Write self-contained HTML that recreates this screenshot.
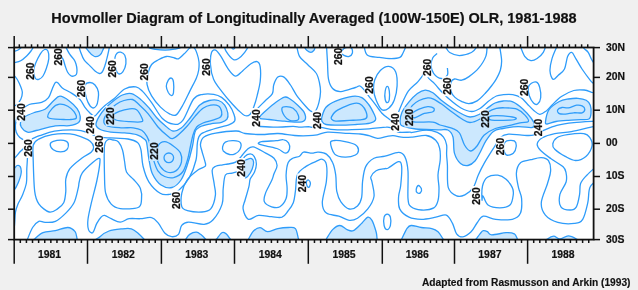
<!DOCTYPE html>
<html><head><meta charset="utf-8"><style>
html,body{margin:0;padding:0;background:#f0f0f0;}
svg{display:block;will-change:transform;}
.ax{font-family:"Liberation Sans",sans-serif;font-weight:bold;font-size:10.4px;fill:#111;stroke:#111;stroke-width:0.2px;}
.cl{font-family:"Liberation Sans",sans-serif;font-weight:bold;font-size:10.4px;fill:#111;stroke:#111;stroke-width:0.25px;}
.tt{font-family:"Liberation Sans",sans-serif;font-weight:bold;font-size:14.52px;fill:#111;stroke:#111;stroke-width:0.2px;}
.ft{font-family:"Liberation Sans",sans-serif;font-weight:bold;font-size:10.2px;fill:#111;stroke:#111;stroke-width:0.15px;}
</style></head><body>
<svg width="638" height="290" viewBox="0 0 638 290">
<defs><mask id="lm" maskUnits="userSpaceOnUse" x="0" y="0" width="638" height="290"><rect x="0" y="0" width="638" height="290" fill="#fff"/><rect x="25.5" y="61.2" width="8.6" height="20" fill="#000"/>
<rect x="53.2" y="46.8" width="8.6" height="20" fill="#000"/>
<rect x="16.3" y="102.0" width="8.6" height="20" fill="#000"/>
<rect x="23.2" y="138.0" width="8.6" height="20" fill="#000"/>
<rect x="76.9" y="78.5" width="8.6" height="20" fill="#000"/>
<rect x="85.7" y="115.0" width="8.6" height="20" fill="#000"/>
<rect x="105.7" y="106.0" width="8.6" height="20" fill="#000"/>
<rect x="94.7" y="134.0" width="8.6" height="20" fill="#000"/>
<rect x="107.7" y="58.8" width="8.6" height="20" fill="#000"/>
<rect x="139.7" y="61.8" width="8.6" height="20" fill="#000"/>
<rect x="149.2" y="141.0" width="8.6" height="20" fill="#000"/>
<rect x="171.3" y="190.4" width="8.6" height="20" fill="#000"/>
<rect x="201.5" y="57.0" width="8.6" height="20" fill="#000"/>
<rect x="251.2" y="108.0" width="8.6" height="20" fill="#000"/>
<rect x="236.7" y="158.0" width="8.6" height="20" fill="#000"/>
<rect x="312.3" y="110.4" width="8.6" height="20" fill="#000"/>
<rect x="333.5" y="46.4" width="8.6" height="20" fill="#000"/>
<rect x="364.5" y="75.0" width="8.6" height="20" fill="#000"/>
<rect x="297.2" y="173.5" width="8.6" height="20" fill="#000"/>
<rect x="390.7" y="112.0" width="8.6" height="20" fill="#000"/>
<rect x="404.5" y="107.3" width="8.6" height="20" fill="#000"/>
<rect x="422.7" y="57.3" width="8.6" height="20" fill="#000"/>
<rect x="442.3" y="76.2" width="8.6" height="20" fill="#000"/>
<rect x="480.2" y="109.0" width="8.6" height="20" fill="#000"/>
<rect x="495.8" y="136.5" width="8.6" height="20" fill="#000"/>
<rect x="533.9" y="117.5" width="8.6" height="20" fill="#000"/>
<rect x="519.3" y="77.4" width="8.6" height="20" fill="#000"/>
<rect x="471.2" y="186.0" width="8.6" height="20" fill="#000"/></mask><clipPath id="pc"><rect x="14.2" y="47.5" width="579.4" height="192.1"/></clipPath></defs>
<rect x="14.2" y="47.5" width="579.4" height="192.1" fill="#fff"/>
<g clip-path="url(#pc)">
<g fill="#cce8fe" stroke="none">
<path d="M85.4,44.0 C83.1,45.4 87.8,50.1 89.3,52.2 C90.8,54.3 92.8,56.0 94.5,56.5 C96.2,57.0 98.3,56.2 99.7,55.2 C101.1,54.2 102.1,52.3 102.7,50.4 C103.3,48.5 106.0,45.1 103.1,44.0 C100.2,42.9 87.7,42.6 85.4,44.0Z"/>
<path d="M21.2,127.0 C20.1,125.3 20.1,123.6 20.6,121.9 C21.1,120.2 22.0,118.6 24.4,117.0 C26.8,115.4 31.3,113.7 34.7,112.4 C38.1,111.1 41.9,111.2 45.0,109.3 C48.1,107.4 50.8,103.2 53.3,101.0 C55.8,98.8 57.3,96.2 60.0,96.2 C62.7,96.2 66.5,98.8 69.3,100.9 C72.1,103.0 75.3,106.0 77.1,108.6 C78.9,111.2 80.0,114.1 80.2,116.4 C80.5,118.7 80.4,121.0 78.6,122.6 C76.8,124.1 73.2,125.2 69.3,125.7 C65.4,126.2 60.9,125.1 55.4,125.9 C49.9,126.7 40.8,129.4 36.1,130.5 C31.5,131.6 30.0,132.8 27.5,132.2 C25.0,131.6 22.3,128.7 21.2,127.0Z"/>
<path d="M96.0,125.2 C95.7,123.2 97.0,120.3 98.6,117.4 C100.2,114.5 102.9,110.8 105.5,108.0 C108.1,105.2 111.2,102.7 114.0,100.5 C116.8,98.3 119.5,96.2 122.4,95.0 C125.3,93.8 128.4,92.9 131.4,93.6 C134.4,94.3 137.4,96.8 140.4,99.2 C143.4,101.6 146.5,105.1 149.3,108.2 C152.1,111.3 154.4,115.1 157.0,118.0 C159.6,120.9 162.3,123.3 165.0,125.5 C167.7,127.7 170.3,130.6 173.0,131.0 C175.7,131.4 178.3,130.2 181.2,128.0 C184.1,125.8 187.4,121.3 190.5,117.5 C193.6,113.7 196.7,107.8 199.8,105.0 C202.9,102.2 206.1,101.2 209.2,100.5 C212.3,99.8 215.9,99.7 218.5,100.5 C221.1,101.3 223.1,103.1 224.7,105.2 C226.2,107.3 227.4,110.7 227.8,113.0 C228.2,115.3 228.0,117.7 227.0,119.2 C226.0,120.8 224.3,121.5 221.6,122.3 C218.9,123.1 214.3,123.0 210.7,123.8 C207.1,124.6 202.4,125.5 199.8,126.9 C197.2,128.3 196.2,128.8 195.0,132.0 C193.8,135.2 193.8,140.3 192.5,146.0 C191.2,151.7 188.9,160.3 187.0,166.0 C185.1,171.7 183.5,176.4 181.0,180.0 C178.5,183.6 175.3,186.7 172.0,187.5 C168.7,188.3 164.2,187.2 161.0,185.0 C157.8,182.8 154.5,178.2 152.5,174.0 C150.5,169.8 149.9,164.5 149.0,159.7 C148.1,154.9 147.6,148.3 147.0,145.0 C146.4,141.7 146.9,141.5 145.2,139.8 C143.5,138.1 140.0,135.8 136.6,134.7 C133.2,133.5 128.8,133.3 124.5,132.9 C120.2,132.5 114.7,132.7 110.7,132.1 C106.7,131.5 102.8,130.7 100.3,129.5 C97.8,128.3 96.3,127.2 96.0,125.2Z"/>
<path d="M148.6,44.0 C143.2,44.6 147.4,46.6 148.6,47.5 C149.8,48.4 152.9,48.9 155.7,49.4 C158.4,49.9 162.0,50.2 165.1,50.2 C168.2,50.2 171.9,49.6 174.5,49.1 C177.1,48.6 179.7,48.4 180.8,47.5 C181.9,46.6 186.4,44.6 181.0,44.0 C175.6,43.4 154.0,43.4 148.6,44.0Z"/>
<path d="M230.2,44.0 C229.7,44.9 232.3,49.2 233.3,49.2 C234.3,49.2 236.9,44.9 236.4,44.0 C235.9,43.1 230.7,43.1 230.2,44.0Z"/>
<path d="M10.0,168.0 C10.7,164.1 12.8,169.0 14.0,168.6 C15.2,168.2 16.1,165.8 17.1,165.5 C18.1,165.2 19.5,165.4 20.2,166.6 C20.9,167.8 21.5,170.1 21.2,172.8 C20.9,175.6 19.3,180.2 18.1,183.1 C16.9,186.0 15.3,188.9 14.0,190.4 C12.7,191.9 10.7,195.7 10.0,192.0 C9.3,188.3 9.3,171.9 10.0,168.0Z"/>
<path d="M33.0,242.0 C25.8,241.5 33.0,240.6 34.7,239.0 C36.4,237.4 39.5,234.1 43.0,232.7 C46.5,231.3 51.3,231.6 55.4,230.7 C59.5,229.8 64.5,227.3 67.8,227.5 C71.1,227.7 73.5,229.8 75.1,231.7 C76.6,233.6 76.6,237.3 77.1,239.0 C77.6,240.7 85.3,241.5 78.0,242.0 C70.7,242.5 40.2,242.5 33.0,242.0Z"/>
<path d="M98.0,242.0 C90.3,241.1 98.2,238.5 100.0,236.7 C101.8,234.9 105.3,232.3 109.0,231.0 C112.7,229.7 118.7,229.2 122.4,228.8 C126.1,228.4 128.8,228.1 131.4,228.8 C134.0,229.6 135.9,231.4 138.1,233.3 C140.3,235.2 143.5,238.6 144.8,240.0 C146.1,241.4 153.8,241.7 146.0,242.0 C138.2,242.3 105.7,242.9 98.0,242.0Z"/>
<path d="M183.0,242.0 C179.4,241.7 184.1,241.3 185.2,240.0 C186.3,238.7 187.8,235.7 189.7,234.4 C191.6,233.1 194.5,232.1 196.4,232.2 C198.3,232.3 199.7,233.7 201.2,234.8 C202.7,235.9 204.4,237.8 205.4,239.0 C206.4,240.2 210.7,241.5 207.0,242.0 C203.3,242.5 186.6,242.3 183.0,242.0Z"/>
<path d="M214.0,242.0 C211.4,241.5 215.4,240.6 216.7,239.0 C218.0,237.4 220.3,233.6 221.9,232.7 C223.5,231.8 224.7,232.8 226.1,233.8 C227.5,234.9 229.2,237.6 230.2,239.0 C231.2,240.4 234.7,241.5 232.0,242.0 C229.3,242.5 216.6,242.5 214.0,242.0Z"/>
<path d="M246.0,242.0 C237.3,241.7 246.7,241.8 247.9,240.0 C249.2,238.2 251.4,233.1 253.5,231.0 C255.6,228.9 257.9,227.6 260.2,227.7 C262.5,227.8 264.6,231.5 267.5,231.7 C270.4,231.8 274.4,229.3 277.8,228.6 C281.2,227.9 285.3,227.5 288.2,227.5 C291.1,227.5 293.7,226.7 295.4,228.6 C297.1,230.5 297.7,236.8 298.5,239.0 C299.3,241.2 308.8,241.5 300.0,242.0 C291.2,242.5 254.7,242.3 246.0,242.0Z"/>
<path d="M244.0,162.1 C244.4,159.2 246.1,159.9 247.4,159.3 C248.7,158.7 250.6,158.1 251.6,158.6 C252.6,159.1 253.5,160.4 253.6,162.1 C253.7,163.8 253.1,166.7 252.2,169.0 C251.3,171.3 249.3,174.6 248.1,175.9 C246.8,177.2 245.4,178.9 244.7,176.6 C244.0,174.3 243.6,165.0 244.0,162.1Z"/>
<path d="M259.5,116.9 C260.4,115.6 262.8,113.4 265.5,110.9 C268.2,108.5 272.7,104.5 275.9,102.2 C279.1,99.9 282.2,97.7 284.5,97.1 C286.8,96.5 287.4,97.4 289.7,98.8 C292.0,100.2 295.9,103.4 298.3,105.7 C300.7,108.0 303.2,110.3 304.3,112.6 C305.4,114.9 305.9,117.9 305.2,119.5 C304.5,121.1 303.4,121.8 300.0,122.1 C296.6,122.4 289.7,121.6 284.5,121.2 C279.3,120.8 273.0,119.9 269.0,119.5 C265.0,119.1 261.9,119.0 260.3,118.6 C258.7,118.2 258.6,118.2 259.5,116.9Z"/>
<path d="M303.0,44.0 C301.1,44.6 304.1,46.5 304.7,47.5 C305.3,48.5 305.7,49.4 306.7,50.2 C307.7,51.0 309.7,52.3 310.9,52.3 C312.1,52.3 313.3,51.0 314.0,50.2 C314.7,49.4 314.7,48.5 315.0,47.5 C315.3,46.5 318.0,44.6 316.0,44.0 C314.0,43.4 304.9,43.4 303.0,44.0Z"/>
<path d="M321.9,116.9 C322.6,114.6 323.7,109.9 326.0,107.3 C328.3,104.7 331.3,102.9 335.7,101.1 C340.1,99.3 347.8,96.9 352.2,96.3 C356.6,95.7 359.1,96.2 361.8,97.6 C364.6,99.0 366.6,101.7 368.7,104.5 C370.8,107.3 373.0,111.7 374.2,114.2 C375.4,116.7 376.3,118.2 375.6,119.7 C374.9,121.2 373.3,122.3 370.1,123.1 C366.9,123.9 361.4,124.2 356.3,124.5 C351.2,124.8 344.9,125.2 339.8,125.2 C334.8,125.2 329.0,125.2 326.0,124.5 C323.0,123.8 322.6,122.4 321.9,121.1 C321.2,119.8 321.2,119.2 321.9,116.9Z"/>
<path d="M400.2,122.9 C399.9,120.6 400.5,116.0 401.9,112.6 C403.3,109.1 406.2,105.4 408.8,102.2 C411.4,99.0 414.7,95.6 417.4,93.6 C420.1,91.6 422.6,90.3 425.2,90.2 C427.8,90.1 430.2,91.1 432.9,92.8 C435.6,94.5 438.4,98.0 441.6,100.5 C444.8,103.0 448.6,105.8 452.0,108.0 C455.4,110.2 459.0,112.5 462.0,114.0 C465.0,115.5 467.2,116.9 470.0,117.0 C472.8,117.1 476.2,115.9 479.0,114.5 C481.8,113.1 484.3,110.4 487.0,108.5 C489.7,106.6 492.3,104.2 495.0,103.0 C497.7,101.8 500.3,101.2 503.3,101.0 C506.3,100.8 509.5,100.5 512.8,101.9 C516.1,103.3 520.0,106.4 523.1,109.2 C526.2,112.0 529.5,115.9 531.4,118.5 C533.3,121.1 534.5,123.2 534.5,124.7 C534.5,126.2 534.1,127.3 531.4,127.6 C528.7,127.9 522.9,126.4 518.1,126.6 C513.4,126.8 507.0,127.7 502.9,128.5 C498.8,129.3 496.2,129.3 493.4,131.4 C490.6,133.5 488.1,137.4 485.9,140.9 C483.7,144.4 482.0,148.8 480.2,152.2 C478.4,155.5 477.0,158.8 475.0,161.0 C473.0,163.2 470.4,165.1 468.0,165.5 C465.6,165.9 462.8,165.5 460.5,163.5 C458.2,161.5 455.8,157.8 454.5,153.4 C453.2,149.0 454.1,140.9 453.0,137.0 C451.9,133.1 450.3,131.2 447.8,130.0 C445.3,128.8 443.5,130.0 438.1,129.8 C432.8,129.6 421.4,129.6 415.7,129.0 C409.9,128.4 406.2,127.4 403.6,126.4 C401.0,125.4 400.5,125.2 400.2,122.9Z"/>
<path d="M545.5,121.7 C545.8,119.3 546.7,113.1 549.0,109.7 C551.3,106.3 556.1,103.3 559.3,101.5 C562.5,99.7 565.2,99.5 568.3,99.0 C571.4,98.5 574.9,98.1 577.9,98.3 C580.9,98.5 584.1,99.1 586.2,100.3 C588.3,101.5 589.5,103.0 590.3,105.2 C591.1,107.4 591.2,111.1 591.0,113.4 C590.8,115.7 590.7,118.0 589.0,119.0 C587.3,120.0 584.2,119.5 580.7,119.7 C577.2,119.9 572.4,120.0 568.3,120.3 C564.2,120.6 559.5,120.9 556.0,121.5 C552.5,122.1 549.0,124.0 547.2,124.0 C545.5,124.0 545.2,124.1 545.5,121.7Z"/>
<path d="M324.0,242.0 C315.4,241.5 325.0,241.1 326.4,239.0 C327.8,236.9 330.4,231.8 332.6,229.6 C334.9,227.3 337.5,225.5 339.9,225.5 C342.3,225.5 344.9,228.7 347.1,229.6 C349.3,230.5 350.9,231.7 353.3,230.7 C355.7,229.7 359.2,225.7 361.6,223.4 C364.0,221.2 366.1,217.7 367.8,217.2 C369.5,216.7 370.6,217.9 372.0,220.3 C373.4,222.7 375.2,228.6 376.1,231.7 C377.0,234.8 376.8,237.3 377.1,239.0 C377.4,240.7 386.9,241.5 378.0,242.0 C369.1,242.5 332.6,242.5 324.0,242.0Z"/>
<path d="M399.0,242.0 C391.8,241.5 400.4,241.2 401.7,239.0 C403.0,236.8 405.3,230.8 406.9,228.6 C408.5,226.3 408.7,225.7 411.1,225.5 C413.5,225.3 417.9,227.0 421.4,227.5 C424.8,228.0 429.0,227.9 431.8,228.6 C434.6,229.3 436.1,230.0 438.0,231.7 C439.9,233.4 441.9,237.3 443.1,239.0 C444.3,240.7 452.4,241.5 445.0,242.0 C437.6,242.5 406.2,242.5 399.0,242.0Z"/>
<path d="M474.0,242.0 C466.9,241.5 475.3,240.4 476.3,239.0 C477.3,237.6 478.8,235.2 480.0,233.8 C481.2,232.4 482.1,231.0 483.3,230.7 C484.5,230.3 486.0,231.0 487.4,231.7 C488.8,232.4 488.5,234.6 491.6,234.8 C494.7,235.0 502.3,232.9 506.1,232.7 C509.9,232.5 512.4,232.8 514.3,233.8 C516.2,234.9 516.6,237.6 517.4,239.0 C518.2,240.4 526.2,241.5 519.0,242.0 C511.8,242.5 481.1,242.5 474.0,242.0Z"/>
<path d="M546.0,242.0 C540.9,241.5 546.2,240.0 547.5,239.0 C548.8,238.0 551.6,236.2 553.7,236.2 C555.8,236.2 557.5,239.1 559.9,239.0 C562.3,238.9 565.5,235.8 568.2,235.8 C571.0,235.8 574.8,238.0 576.4,239.0 C578.0,240.0 583.1,241.5 578.0,242.0 C572.9,242.5 551.1,242.5 546.0,242.0Z"/>
</g>
<g fill="none" stroke="#2e9cfa" stroke-width="1.3" mask="url(#lm)">
<path d="M14.0,51.5 C14.8,51.2 17.0,50.7 18.5,49.8 C20.0,48.9 22.2,46.6 23.0,46.0"/>
<path d="M14.0,62.9 C15.1,62.5 18.6,62.0 20.7,60.8 C22.8,59.6 25.2,57.3 26.9,55.7 C28.6,54.1 29.8,52.6 31.0,51.0 C32.2,49.4 33.6,46.8 34.1,46.0"/>
<path d="M60.9,44.0 C60.9,45.8 60.5,52.1 60.9,54.8 C61.3,57.4 62.7,58.0 63.4,59.9 C64.1,61.8 64.5,64.0 65.2,66.0 C65.9,68.0 66.6,70.4 67.5,72.0 C68.4,73.6 69.5,74.8 70.5,75.5 C71.5,76.2 72.3,76.4 73.3,76.2 C74.3,76.0 75.7,75.5 76.3,74.5 C76.9,73.5 77.0,71.8 77.0,70.0 C77.0,68.2 76.5,65.7 76.0,64.0 C75.5,62.3 75.3,61.6 74.2,59.9 C73.1,58.2 71.2,56.5 69.5,53.9 C67.8,51.2 65.2,45.6 64.3,44.0"/>
<path d="M78.1,44.0 C78.5,45.4 79.7,49.6 80.7,52.2 C81.7,54.9 82.7,57.8 84.1,59.9 C85.5,62.0 87.5,63.2 89.3,65.1 C91.1,66.9 93.3,69.6 95.0,71.0 C96.7,72.4 98.3,73.3 99.5,73.5 C100.7,73.7 101.3,73.2 102.2,72.0 C103.1,70.8 104.0,68.3 104.8,66.0 C105.6,63.7 106.3,61.1 107.0,58.2 C107.7,55.3 108.7,51.1 109.1,48.7 C109.5,46.3 109.4,44.8 109.5,44.0"/>
<path d="M10.0,74.0 C10.9,74.5 13.8,75.3 15.4,76.9 C17.0,78.5 18.4,81.3 19.5,83.8 C20.6,86.3 22.1,89.5 22.3,92.0 C22.5,94.5 21.8,96.9 20.9,99.0 C20.0,101.1 18.6,103.0 16.8,104.5 C15.0,106.0 11.1,107.4 10.0,108.0"/>
<path d="M224.0,44.0 C224.3,45.2 224.4,48.6 226.0,51.2 C227.6,53.8 231.2,58.3 233.3,59.5 C235.4,60.7 236.6,59.7 238.5,58.5 C240.4,57.3 242.8,54.7 244.7,52.3 C246.6,49.9 249.0,45.4 249.9,44.0"/>
<path d="M10.0,160.0 C10.8,159.7 12.8,159.5 14.6,158.0 C16.4,156.5 18.9,152.9 20.6,151.2 C22.3,149.5 23.9,148.3 25.0,147.8 C26.1,147.3 26.6,146.6 27.0,148.0 C27.4,149.4 27.5,152.5 27.5,156.0 C27.5,159.5 27.0,164.5 26.8,169.0 C26.6,173.5 27.1,178.6 26.4,183.0 C25.6,187.4 23.7,192.0 22.3,195.5 C20.9,199.0 19.2,201.1 18.1,203.8 C17.0,206.6 16.1,208.5 15.5,212.0 C14.9,215.5 14.9,220.3 14.5,225.0 C14.1,229.7 13.2,237.5 13.0,240.0"/>
<path d="M26.4,242.0 C27.4,239.6 30.5,230.9 32.6,227.5 C34.7,224.1 36.7,222.2 38.8,221.3 C40.9,220.5 42.3,222.4 45.1,222.4 C47.9,222.4 52.0,222.9 55.4,221.3 C58.8,219.8 62.7,216.2 65.8,213.1 C68.9,210.0 71.9,206.8 74.0,202.7 C76.1,198.5 77.3,191.6 78.2,188.2 C79.1,184.8 78.5,184.6 79.2,182.0 C79.9,179.4 80.0,176.1 82.3,172.8 C84.5,169.5 89.9,164.8 92.7,162.4 C95.5,160.0 97.7,158.3 98.9,158.3 C100.1,158.3 100.2,158.6 99.9,162.4 C99.6,166.2 98.2,174.4 96.8,181.0 C95.4,187.6 93.1,195.4 91.6,201.8 C90.1,208.2 88.5,214.7 88.0,219.3 C87.5,223.9 87.7,227.4 88.5,229.6 C89.3,231.8 91.3,233.7 92.7,232.7 C94.1,231.7 95.4,226.0 96.8,223.4 C98.2,220.8 99.7,218.5 101.0,217.2 C102.3,215.9 102.8,215.2 104.5,215.4 C106.2,215.7 108.6,217.6 111.2,218.7 C113.8,219.8 117.2,222.1 120.2,222.1 C123.2,222.1 125.7,219.3 129.1,218.7 C132.5,218.1 136.7,218.9 140.4,218.7 C144.2,218.5 148.6,216.8 151.6,217.6 C154.6,218.3 156.1,220.6 158.3,223.2 C160.5,225.8 162.8,231.1 165.0,233.3 C167.2,235.6 169.4,236.5 171.7,236.7 C173.9,236.9 176.8,236.3 178.5,234.4 C180.2,232.5 180.0,227.5 181.7,225.4 C183.4,223.3 184.8,222.3 188.5,222.1 C192.2,221.9 200.0,224.7 204.1,224.3 C208.2,223.9 210.1,223.2 213.1,219.8 C216.1,216.4 220.4,209.3 222.1,204.1 C223.8,198.9 222.6,193.3 223.2,188.5 C223.8,183.7 223.9,177.6 225.4,175.0 C226.9,172.4 230.1,173.7 232.2,173.1 C234.3,172.5 236.9,171.9 237.8,171.7"/>
<path d="M237.8,171.7 C238.2,170.8 238.8,168.5 240.0,166.0 C241.2,163.5 243.0,158.6 244.7,156.6 C246.4,154.6 248.6,153.8 250.2,153.8 C251.8,153.8 253.3,154.9 254.3,156.6 C255.3,158.3 256.4,161.4 256.4,164.0 C256.4,166.6 255.5,169.5 254.5,172.0 C253.5,174.5 251.1,176.6 250.2,179.0 C249.3,181.4 249.8,183.2 248.9,186.7 C248.1,190.2 246.1,196.3 245.1,200.0 C244.1,203.7 242.6,205.7 243.1,208.9 C243.6,212.1 245.7,218.2 248.3,219.3 C250.9,220.4 254.7,215.8 258.6,215.4 C262.5,215.0 267.6,216.4 271.5,216.7 C275.4,217.0 279.2,218.1 282.0,217.2 C284.8,216.2 286.1,213.4 288.0,211.0 C289.9,208.6 292.1,206.0 293.3,202.7 C294.5,199.4 294.7,196.1 295.4,191.4 C296.1,186.8 295.7,178.9 297.4,174.8 C299.1,170.7 302.6,168.8 305.7,166.6 C308.8,164.4 313.3,162.6 316.1,161.4 C318.9,160.2 320.6,158.8 322.3,159.3 C324.0,159.8 325.7,160.9 326.4,164.5 C327.1,168.1 327.1,174.7 326.4,181.1 C325.7,187.5 322.3,197.4 322.3,202.7 C322.3,208.0 323.6,210.8 326.4,213.1 C329.1,215.3 335.0,215.0 338.8,216.2 C342.6,217.4 346.1,220.0 349.2,220.3 C352.3,220.6 354.4,220.1 357.5,218.2 C360.6,216.3 365.1,212.5 367.8,208.9 C370.6,205.3 373.3,201.0 374.0,196.5 C374.7,192.0 372.5,185.3 372.0,182.0 C371.5,178.7 370.2,178.8 370.9,176.9 C371.6,175.0 373.8,172.1 376.1,170.7 C378.5,169.3 383.0,169.0 385.0,168.6 C387.0,168.2 386.0,169.2 388.3,168.0 C390.6,166.8 396.4,161.9 398.6,161.7 C400.8,161.5 401.4,162.9 401.7,166.9 C402.0,170.9 401.2,180.6 400.7,185.5 C400.2,190.4 398.8,192.6 398.6,196.5 C398.4,200.4 398.0,205.5 399.7,208.9 C401.4,212.3 405.4,215.5 409.0,217.2 C412.6,218.9 416.9,219.3 421.4,219.3 C425.9,219.3 431.8,217.9 435.9,217.2 C440.0,216.5 443.5,214.1 446.3,215.1 C449.1,216.1 450.8,220.3 452.5,223.4 C454.2,226.5 454.9,231.6 456.6,233.8 C458.3,236.1 460.4,237.2 462.8,236.9 C465.2,236.6 468.7,234.0 471.1,231.7 C473.5,229.4 475.0,225.6 477.0,223.0 C479.0,220.4 480.2,216.8 483.3,216.2 C486.4,215.6 490.9,218.8 495.7,219.3 C500.5,219.8 508.2,220.3 512.3,219.3 C516.4,218.3 519.0,216.6 520.5,213.1 C522.0,209.6 521.9,202.8 521.6,198.6 C521.3,194.3 519.4,191.8 518.5,187.6 C517.6,183.3 516.1,177.2 516.4,173.1 C516.7,169.0 518.1,165.0 520.5,162.8 C522.9,160.6 527.4,160.6 530.9,159.7 C534.4,158.8 538.4,157.4 541.3,157.6 C544.2,157.8 547.0,158.4 548.5,160.7 C550.0,162.9 550.8,167.3 550.6,171.1 C550.4,174.9 549.0,178.2 547.5,183.5 C546.0,188.8 541.6,197.4 541.3,202.7 C540.9,208.0 542.6,211.8 545.4,215.1 C548.1,218.4 553.0,221.0 557.8,222.4 C562.6,223.8 570.2,223.9 574.4,223.4 C578.5,222.9 580.5,222.8 582.7,219.3 C584.9,215.9 586.6,208.0 587.8,202.7 C589.0,197.4 588.2,191.5 589.9,187.6 C591.6,183.7 596.6,180.4 598.0,179.0"/>
<path d="M256.0,126.0 C256.4,126.1 255.3,126.2 258.6,126.4 C261.9,126.6 270.1,127.2 275.9,127.2 C281.6,127.2 289.1,126.4 293.1,126.4 C297.1,126.4 297.4,127.0 300.0,127.1 C302.6,127.1 306.5,126.7 308.6,126.7 C310.8,126.8 310.9,127.3 312.9,127.4 C314.9,127.5 317.1,127.0 320.7,127.4 C324.3,127.8 329.3,129.3 334.5,129.7 C339.7,130.1 345.9,129.8 351.7,129.7 C357.4,129.5 363.2,129.2 369.0,128.8 C374.8,128.4 382.5,127.2 386.2,127.1 C389.9,126.9 389.8,127.4 391.4,127.9 C393.0,128.4 394.9,129.3 396.0,130.0 C397.1,130.7 396.0,131.8 398.3,132.2 C400.6,132.6 407.6,132.2 410.0,132.2 C412.4,132.2 409.7,132.8 412.4,132.4 C415.1,132.1 422.2,130.1 426.4,130.1 C430.5,130.1 434.4,131.2 437.3,132.4 C440.2,133.6 441.9,135.0 443.5,137.1 C445.1,139.2 446.1,142.0 446.6,144.8 C447.1,147.7 446.5,150.8 446.6,154.2 C446.7,157.6 447.1,159.4 447.4,165.0 C447.7,170.6 446.8,182.4 448.3,187.6 C449.8,192.8 453.8,194.7 456.6,195.9 C459.4,197.1 462.1,196.3 464.9,194.9 C467.7,193.5 471.0,190.9 473.2,187.6 C475.4,184.3 476.5,179.0 478.3,175.0 C480.1,171.0 481.5,168.0 484.0,163.6 C486.5,159.2 490.6,152.8 493.4,148.4 C496.2,144.0 498.4,139.5 500.9,137.1 C503.4,134.7 505.1,134.5 508.6,134.2 C512.1,133.9 517.8,135.0 521.9,135.2 C526.0,135.4 529.8,135.9 533.2,135.2 C536.6,134.5 538.5,132.6 542.4,131.0 C546.3,129.4 551.7,126.8 556.9,125.4 C562.1,124.0 566.9,123.3 573.8,122.6 C580.6,121.9 594.0,121.3 598.0,121.0"/>
<path d="M296.4,44.0 C296.9,46.1 297.6,52.9 299.5,56.4 C301.4,59.9 305.0,61.9 307.8,64.7 C310.6,67.5 314.2,70.0 316.1,73.0 C318.1,76.0 318.8,79.8 319.5,83.0 C320.2,86.2 320.6,88.8 320.5,92.0 C320.4,95.2 319.8,99.0 319.0,102.2 C318.2,105.4 316.9,109.5 315.5,110.9 C314.1,112.4 312.0,111.8 310.3,110.9 C308.6,110.0 307.5,108.3 305.2,105.7 C302.9,103.1 299.1,98.8 296.6,95.3 C294.2,91.8 292.6,88.0 290.5,85.0 C288.4,82.0 286.1,78.4 284.0,77.1 C281.9,75.8 279.5,75.8 277.8,77.1 C276.1,78.4 274.6,82.2 273.7,85.0 C272.8,87.8 273.8,91.0 272.4,93.6 C271.0,96.2 267.8,98.2 265.5,100.5 C263.2,102.8 260.5,105.4 258.6,107.4 C256.7,109.4 255.0,111.7 254.3,112.6"/>
<path d="M326.4,44.0 C326.6,46.8 327.0,54.7 327.4,60.6 C327.8,66.5 327.6,74.5 328.5,79.2 C329.4,83.9 330.5,86.4 332.6,88.5 C334.7,90.6 337.1,91.8 340.9,91.6 C344.7,91.4 352.2,88.4 355.4,87.5 C358.6,86.6 358.4,85.4 360.0,86.0 C361.6,86.6 363.4,89.1 365.0,91.0 C366.6,92.9 368.1,95.2 369.7,97.3 C371.3,99.3 372.5,100.7 374.5,103.3 C376.5,105.9 379.3,110.4 381.7,113.0 C384.1,115.6 387.3,117.7 389.0,119.0 C390.7,120.3 391.5,120.7 392.0,121.0"/>
<path d="M363.7,44.0 C364.3,45.8 364.6,52.8 367.2,55.0 C369.8,57.2 375.3,56.8 379.3,57.4 C383.3,58.0 388.0,58.6 391.4,58.6 C394.8,58.6 398.0,58.3 399.9,57.4 C401.8,56.5 401.8,55.2 403.0,53.0 C404.2,50.8 406.2,45.5 406.9,44.0"/>
<path d="M397.4,115.4 C398.0,113.8 399.3,109.7 401.1,105.7 C402.9,101.7 405.5,95.2 408.3,91.2 C411.1,87.2 415.2,84.8 418.0,81.6 C420.8,78.4 423.7,74.2 425.2,71.9 C426.7,69.6 426.6,67.2 427.0,68.0 C427.4,68.8 426.4,74.1 427.6,76.7 C428.9,79.3 432.4,81.4 434.5,83.6 C436.6,85.8 437.5,87.3 440.0,90.0 C442.5,92.7 446.2,96.6 449.7,99.6 C453.2,102.6 457.4,106.0 461.0,108.0 C464.6,110.0 468.4,111.4 471.6,111.5 C474.8,111.6 477.2,110.2 480.0,108.5 C482.8,106.8 485.4,103.7 488.1,101.6 C490.8,99.5 493.9,97.2 496.4,96.0 C498.9,94.8 500.6,94.9 503.3,94.7 C506.0,94.5 509.8,94.2 512.8,94.7 C515.8,95.2 518.7,96.2 521.1,97.8 C523.5,99.3 525.2,101.9 527.3,104.0 C529.4,106.1 531.4,108.5 533.5,110.2 C535.6,111.9 537.6,114.1 539.7,114.3 C541.8,114.5 543.8,112.8 545.9,111.2 C548.0,109.7 549.5,107.5 552.1,105.0 C554.7,102.5 557.8,98.9 561.4,96.5 C565.0,94.1 570.0,91.6 573.8,90.5 C577.6,89.4 581.0,89.7 584.1,90.0 C587.2,90.3 590.0,91.7 592.3,92.5 C594.6,93.3 597.0,94.6 598.0,95.0"/>
<path d="M437.1,53.5 C436.4,54.2 433.8,55.9 432.8,57.8 C431.8,59.7 430.9,62.1 431.0,64.7 C431.1,67.3 431.9,71.0 433.6,73.3 C435.3,75.6 439.1,78.2 441.4,78.5 C443.7,78.8 446.4,76.7 447.4,75.0 C448.4,73.3 447.4,69.2 447.4,68.1"/>
<path d="M444.0,44.0 C444.3,44.6 445.1,46.2 446.0,47.6 C446.9,49.0 447.5,51.2 449.7,52.5 C451.9,53.8 455.7,55.6 459.3,55.6 C462.9,55.6 468.6,53.8 471.4,52.5 C474.2,51.2 475.3,49.0 476.2,47.6 C477.1,46.2 476.9,44.6 477.0,44.0"/>
<path d="M487.1,44.0 C486.9,46.0 487.3,52.1 485.9,56.1 C484.5,60.1 481.4,64.8 478.6,68.2 C475.8,71.6 471.8,74.6 469.0,76.6 C466.2,78.6 464.1,79.8 461.7,80.2 C459.3,80.6 456.3,78.6 454.5,79.0 C452.7,79.4 451.5,80.6 450.9,82.6 C450.3,84.6 450.2,88.6 450.9,91.1 C451.6,93.6 453.2,95.7 455.0,97.4 C456.8,99.2 459.6,100.6 461.9,101.6 C464.2,102.6 466.3,103.7 468.8,103.6 C471.3,103.5 474.4,102.6 477.1,100.9 C479.9,99.2 482.8,96.0 485.3,93.3 C487.8,90.6 490.4,87.4 492.2,85.0 C494.0,82.6 494.8,81.6 496.2,79.1 C497.6,76.6 499.5,73.2 500.4,70.0 C501.3,66.8 501.8,64.3 501.6,60.0 C501.4,55.7 499.6,46.7 499.2,44.0"/>
<path d="M519.5,44.0 C520.4,46.1 522.8,53.6 524.7,56.4 C526.6,59.2 528.8,60.2 530.9,60.6 C533.0,61.0 535.0,59.9 537.1,58.5 C539.2,57.1 541.8,54.7 543.3,52.3 C544.8,49.9 545.9,45.4 546.4,44.0"/>
<path d="M558.0,44.0 C557.0,46.4 553.3,54.1 552.0,58.6 C550.7,63.1 549.8,67.5 550.0,71.0 C550.2,74.5 551.7,78.6 553.1,79.3 C554.5,80.0 556.4,76.9 558.3,75.2 C560.2,73.5 563.0,72.1 564.5,69.0 C566.0,65.9 566.4,59.4 567.6,56.6 C568.8,53.8 570.3,52.1 571.7,52.4 C573.1,52.7 574.1,55.8 575.8,58.6 C577.5,61.4 579.6,65.4 582.0,69.0 C584.4,72.6 588.4,77.9 590.3,80.3 C592.2,82.7 592.1,82.3 593.4,83.4 C594.7,84.5 597.2,86.4 598.0,87.0"/>
<path d="M582.0,44.0 C582.3,44.7 583.0,46.9 584.0,48.3 C585.0,49.7 586.8,50.3 588.2,52.4 C589.6,54.5 590.7,58.1 592.3,60.7 C593.9,63.3 597.0,66.8 598.0,68.0"/>
<path d="M598.0,126.0 C596.7,126.2 594.4,126.5 590.0,127.4 C585.6,128.3 577.3,130.6 571.4,131.6 C565.5,132.6 559.6,132.6 554.8,133.6 C550.0,134.6 545.3,136.1 542.4,137.8 C539.5,139.5 537.5,141.9 537.2,144.0 C536.9,146.1 538.1,147.8 540.4,150.2 C542.6,152.6 546.9,155.7 550.7,158.5 C554.5,161.3 560.5,164.4 563.1,166.8 C565.7,169.2 565.6,170.6 566.1,173.1 C566.6,175.6 567.1,178.4 566.1,182.0 C565.1,185.6 560.8,190.3 559.9,194.4 C559.0,198.5 559.2,204.2 560.9,206.8 C562.6,209.4 567.6,210.0 570.2,210.0 C572.8,210.0 574.8,209.4 576.4,206.8 C578.0,204.2 578.9,198.3 579.6,194.4 C580.3,190.5 579.4,186.7 580.6,183.5 C581.8,180.3 583.9,178.3 586.8,175.2 C589.7,172.1 596.1,166.7 598.0,165.0"/>
<path d="M35.5,78.5 C34.6,77.2 33.5,74.3 33.5,71.8 C33.5,69.3 34.3,66.6 35.5,63.6 C36.7,60.6 39.0,56.0 40.5,53.6 C42.0,51.2 43.4,49.9 44.6,49.5 C45.8,49.1 47.2,49.6 47.9,51.1 C48.6,52.6 49.1,55.7 48.8,58.6 C48.5,61.5 47.3,65.6 46.3,68.5 C45.3,71.4 44.2,74.2 43.0,76.0 C41.8,77.8 40.0,78.9 38.8,79.3 C37.5,79.7 36.4,79.8 35.5,78.5Z"/>
<path d="M85.4,44.0 C83.1,45.4 87.8,50.1 89.3,52.2 C90.8,54.3 92.8,56.0 94.5,56.5 C96.2,57.0 98.3,56.2 99.7,55.2 C101.1,54.2 102.1,52.3 102.7,50.4 C103.3,48.5 106.0,45.1 103.1,44.0 C100.2,42.9 87.7,42.6 85.4,44.0Z"/>
<path d="M115.0,57.4 C115.3,55.7 116.0,54.1 117.0,53.2 C118.0,52.3 119.4,51.9 120.7,52.2 C122.0,52.6 123.9,53.4 124.8,55.3 C125.7,57.2 126.2,60.9 125.9,63.6 C125.6,66.3 124.0,70.1 122.8,71.8 C121.6,73.5 119.7,74.2 118.6,73.9 C117.5,73.6 116.6,71.5 116.0,69.8 C115.4,68.1 115.4,65.7 115.2,63.6 C115.0,61.5 114.7,59.1 115.0,57.4Z"/>
<path d="M85.0,85.0 C85.8,83.4 88.3,82.5 90.0,82.5 C91.7,82.5 93.6,83.4 95.0,85.0 C96.4,86.6 97.9,89.5 98.4,92.0 C98.9,94.5 98.3,97.8 98.0,100.0 C97.7,102.2 97.4,104.2 96.5,105.5 C95.6,106.8 94.0,108.4 92.6,107.9 C91.2,107.4 89.3,105.1 88.0,102.4 C86.7,99.8 85.5,94.9 85.0,92.0 C84.5,89.1 84.2,86.6 85.0,85.0Z"/>
<path d="M21.5,110.0 C23.5,107.9 25.8,105.8 29.2,104.5 C32.5,103.2 38.4,103.6 41.6,102.4 C44.8,101.2 46.7,100.0 48.5,97.6 C50.3,95.2 51.5,90.4 52.6,87.9 C53.8,85.4 54.5,83.2 55.4,82.4 C56.3,81.6 57.0,82.2 58.1,83.1 C59.2,84.0 60.0,86.2 62.3,87.9 C64.6,89.6 69.0,91.5 71.9,93.4 C74.9,95.3 77.8,97.2 80.0,99.5 C82.2,101.8 83.2,104.9 84.8,107.1 C86.4,109.3 87.9,111.0 89.5,112.5 C91.1,114.0 92.8,116.2 94.5,116.0 C96.2,115.8 97.8,112.8 99.5,111.0 C101.2,109.2 102.5,107.6 105.0,105.5 C107.5,103.4 111.0,101.2 114.3,98.5 C117.6,95.8 121.1,90.9 124.7,89.0 C128.3,87.1 132.9,86.5 135.9,86.9 C138.9,87.3 140.0,88.8 142.6,91.4 C145.2,94.0 148.3,98.1 151.6,102.6 C154.9,107.1 158.7,114.9 162.4,118.5 C166.1,122.1 170.2,123.7 173.6,124.1 C177.0,124.5 179.3,124.9 182.6,120.7 C185.9,116.5 190.2,103.4 193.6,99.0 C197.0,94.6 199.6,95.1 203.0,94.3 C206.4,93.5 210.7,93.8 213.8,94.3 C216.9,94.8 219.0,95.6 221.6,97.4 C224.2,99.2 227.2,102.4 229.3,105.2 C231.4,108.0 233.1,111.9 234.0,114.5 C234.9,117.1 235.6,119.0 234.8,120.7 C234.0,122.4 232.8,123.2 229.3,124.6 C225.8,126.0 218.3,127.4 213.6,129.0 C208.9,130.6 203.7,131.8 201.0,134.0 C198.3,136.2 198.3,137.7 197.5,142.0 C196.7,146.3 197.4,154.1 196.0,160.0 C194.6,165.9 192.3,172.4 189.3,177.6 C186.3,182.8 181.5,188.2 178.1,191.0 C174.7,193.8 172.1,194.0 169.1,194.4 C166.1,194.8 163.5,195.4 160.2,193.3 C156.8,191.2 151.9,186.7 149.0,182.1 C146.1,177.5 144.3,171.3 143.0,166.0 C141.7,160.7 141.9,153.9 141.0,150.0 C140.1,146.1 139.7,144.3 137.5,142.5 C135.3,140.7 131.6,139.7 128.0,139.0 C124.4,138.3 120.5,138.4 115.9,138.1 C111.3,137.8 105.0,138.1 100.3,137.2 C95.6,136.3 91.9,134.0 88.0,132.8 C84.1,131.6 82.4,130.4 76.8,130.1 C71.2,129.8 60.6,130.3 54.4,131.2 C48.2,132.1 43.5,134.4 39.6,135.7 C35.7,137.0 33.5,138.4 31.0,139.1 C28.6,139.8 26.8,140.3 24.9,140.0 C23.0,139.7 21.2,138.7 19.8,137.4 C18.4,136.1 17.0,134.2 16.3,132.2 C15.6,130.2 15.2,127.8 15.4,125.3 C15.6,122.8 16.2,119.5 17.2,117.0 C18.2,114.5 19.5,112.1 21.5,110.0Z"/>
<path d="M21.2,127.0 C20.1,125.3 20.1,123.6 20.6,121.9 C21.1,120.2 22.0,118.6 24.4,117.0 C26.8,115.4 31.3,113.7 34.7,112.4 C38.1,111.1 41.9,111.2 45.0,109.3 C48.1,107.4 50.8,103.2 53.3,101.0 C55.8,98.8 57.3,96.2 60.0,96.2 C62.7,96.2 66.5,98.8 69.3,100.9 C72.1,103.0 75.3,106.0 77.1,108.6 C78.9,111.2 80.0,114.1 80.2,116.4 C80.5,118.7 80.4,121.0 78.6,122.6 C76.8,124.1 73.2,125.2 69.3,125.7 C65.4,126.2 60.9,125.1 55.4,125.9 C49.9,126.7 40.8,129.4 36.1,130.5 C31.5,131.6 30.0,132.8 27.5,132.2 C25.0,131.6 22.3,128.7 21.2,127.0Z"/>
<path d="M48.2,117.6 C46.3,115.7 50.4,110.5 52.3,108.3 C54.2,106.0 56.9,104.4 59.5,104.1 C62.1,103.8 65.4,104.9 67.8,106.2 C70.2,107.5 72.6,109.7 74.0,111.7 C75.4,113.7 76.8,116.7 76.3,118.0 C75.8,119.3 73.0,119.2 70.9,119.5 C68.8,119.8 67.5,119.8 63.7,119.5 C59.9,119.2 50.1,119.5 48.2,117.6Z"/>
<path d="M96.0,125.2 C95.7,123.2 97.0,120.3 98.6,117.4 C100.2,114.5 102.9,110.8 105.5,108.0 C108.1,105.2 111.2,102.7 114.0,100.5 C116.8,98.3 119.5,96.2 122.4,95.0 C125.3,93.8 128.4,92.9 131.4,93.6 C134.4,94.3 137.4,96.8 140.4,99.2 C143.4,101.6 146.5,105.1 149.3,108.2 C152.1,111.3 154.4,115.1 157.0,118.0 C159.6,120.9 162.3,123.3 165.0,125.5 C167.7,127.7 170.3,130.6 173.0,131.0 C175.7,131.4 178.3,130.2 181.2,128.0 C184.1,125.8 187.4,121.3 190.5,117.5 C193.6,113.7 196.7,107.8 199.8,105.0 C202.9,102.2 206.1,101.2 209.2,100.5 C212.3,99.8 215.9,99.7 218.5,100.5 C221.1,101.3 223.1,103.1 224.7,105.2 C226.2,107.3 227.4,110.7 227.8,113.0 C228.2,115.3 228.0,117.7 227.0,119.2 C226.0,120.8 224.3,121.5 221.6,122.3 C218.9,123.1 214.3,123.0 210.7,123.8 C207.1,124.6 202.4,125.5 199.8,126.9 C197.2,128.3 196.2,128.8 195.0,132.0 C193.8,135.2 193.8,140.3 192.5,146.0 C191.2,151.7 188.9,160.3 187.0,166.0 C185.1,171.7 183.5,176.4 181.0,180.0 C178.5,183.6 175.3,186.7 172.0,187.5 C168.7,188.3 164.2,187.2 161.0,185.0 C157.8,182.8 154.5,178.2 152.5,174.0 C150.5,169.8 149.9,164.5 149.0,159.7 C148.1,154.9 147.6,148.3 147.0,145.0 C146.4,141.7 146.9,141.5 145.2,139.8 C143.5,138.1 140.0,135.8 136.6,134.7 C133.2,133.5 128.8,133.3 124.5,132.9 C120.2,132.5 114.7,132.7 110.7,132.1 C106.7,131.5 102.8,130.7 100.3,129.5 C97.8,128.3 96.3,127.2 96.0,125.2Z"/>
<path d="M103.8,120.9 C103.9,118.6 106.0,114.7 108.0,112.0 C110.0,109.3 113.2,106.4 115.9,104.5 C118.6,102.6 121.2,101.3 124.0,100.5 C126.8,99.7 130.0,98.8 132.5,99.5 C135.0,100.2 136.6,102.4 139.2,104.8 C141.8,107.2 145.1,110.1 148.2,113.8 C151.3,117.5 154.7,123.2 158.0,127.0 C161.3,130.8 165.9,134.7 168.3,136.6 C170.7,138.5 170.8,138.9 172.5,138.6 C174.2,138.2 176.3,136.6 178.7,134.5 C181.1,132.4 184.2,129.3 187.0,126.2 C189.8,123.1 192.5,119.1 195.2,116.1 C197.9,113.1 200.4,110.1 203.0,108.3 C205.6,106.5 208.1,105.6 210.7,105.2 C213.3,104.8 216.7,105.0 218.5,106.0 C220.3,107.0 221.2,109.6 221.6,111.4 C222.0,113.2 222.1,115.4 220.8,116.8 C219.5,118.2 216.8,118.9 213.8,119.9 C210.8,120.9 205.8,121.8 203.0,123.0 C200.2,124.2 198.4,125.0 196.7,127.0 C195.0,129.0 194.0,131.8 193.0,135.0 C192.0,138.2 191.4,141.9 190.5,146.0 C189.6,150.1 188.8,155.4 187.5,159.7 C186.2,164.0 184.9,169.0 182.6,172.0 C180.3,175.0 176.6,176.8 173.6,177.6 C170.6,178.3 167.3,177.6 164.7,176.5 C162.1,175.4 159.8,173.7 157.9,170.9 C156.0,168.1 154.8,164.0 153.5,159.7 C152.2,155.4 151.4,148.9 150.3,145.0 C149.2,141.1 148.3,138.8 146.9,136.4 C145.5,134.0 144.0,131.7 141.7,130.3 C139.4,128.9 136.5,128.2 133.1,127.8 C129.7,127.4 125.3,128.1 121.0,127.8 C116.7,127.5 110.1,127.2 107.2,126.0 C104.3,124.8 103.7,123.2 103.8,120.9Z"/>
<path d="M112.4,115.7 C113.0,114.3 116.4,112.6 119.3,111.4 C122.2,110.2 126.8,109.1 129.7,108.8 C132.6,108.5 134.6,108.3 136.6,109.7 C138.6,111.1 140.8,115.4 141.7,117.4 C142.5,119.4 143.7,121.0 141.7,121.7 C139.7,122.4 134.0,122.0 129.7,121.7 C125.4,121.4 118.8,121.0 115.9,120.0 C113.0,119.0 111.8,117.1 112.4,115.7Z"/>
<path d="M157.9,146.2 C159.2,143.6 162.1,141.7 164.7,141.7 C167.3,141.7 171.0,144.3 173.6,146.2 C176.2,148.1 179.1,150.3 180.4,152.9 C181.7,155.5 182.2,158.9 181.5,161.9 C180.8,164.9 178.3,169.2 175.9,170.9 C173.5,172.6 169.5,172.8 166.9,172.0 C164.3,171.2 161.9,168.8 160.2,166.4 C158.5,164.0 157.2,160.8 156.8,157.4 C156.4,154.0 156.6,148.8 157.9,146.2Z"/>
<path d="M164.0,157.8 C164.0,156.7 164.6,155.2 165.4,154.4 C166.2,153.6 167.7,153.0 168.8,153.0 C169.9,153.0 171.4,153.6 172.2,154.4 C173.0,155.2 173.6,156.7 173.6,157.8 C173.6,158.9 173.0,160.4 172.2,161.2 C171.4,162.0 169.9,162.6 168.8,162.6 C167.7,162.6 166.2,162.0 165.4,161.2 C164.6,160.4 164.0,158.9 164.0,157.8Z"/>
<path d="M148.6,44.0 C143.2,44.6 147.4,46.6 148.6,47.5 C149.8,48.4 152.9,48.9 155.7,49.4 C158.4,49.9 162.0,50.2 165.1,50.2 C168.2,50.2 171.9,49.6 174.5,49.1 C177.1,48.6 179.7,48.4 180.8,47.5 C181.9,46.6 186.4,44.6 181.0,44.0 C175.6,43.4 154.0,43.4 148.6,44.0Z"/>
<path d="M151.6,64.5 C153.3,62.3 155.5,61.3 158.0,60.0 C160.5,58.7 163.8,56.8 166.6,56.5 C169.3,56.2 172.5,57.6 174.5,58.0 C176.5,58.4 176.8,59.4 178.4,58.8 C180.0,58.1 181.9,55.9 183.9,54.1 C185.9,52.3 188.5,48.8 190.2,47.8 C191.9,46.8 192.9,46.8 194.1,47.8 C195.3,48.8 196.4,51.7 197.2,54.1 C198.0,56.5 198.8,59.4 199.0,62.0 C199.2,64.7 199.1,67.3 198.7,70.0 C198.3,72.7 197.9,74.3 196.4,77.9 C194.9,81.5 191.9,86.9 189.7,91.4 C187.5,95.9 185.2,100.9 183.0,104.8 C180.8,108.7 178.4,113.4 176.2,114.9 C173.9,116.4 172.1,115.1 169.5,113.8 C166.9,112.5 163.5,110.1 160.5,107.1 C157.5,104.1 153.8,99.6 151.6,95.9 C149.4,92.2 147.7,88.5 147.1,84.7 C146.5,80.9 147.2,76.4 148.0,73.0 C148.8,69.6 149.9,66.7 151.6,64.5Z"/>
<path d="M166.3,86.3 C166.3,84.2 167.5,81.5 168.3,80.1 C169.2,78.7 170.5,77.8 171.4,78.1 C172.3,78.4 173.2,79.8 173.5,82.2 C173.8,84.6 173.8,90.2 173.5,92.5 C173.2,94.8 172.3,95.7 171.4,95.7 C170.5,95.7 169.2,94.1 168.3,92.5 C167.5,90.9 166.3,88.4 166.3,86.3Z"/>
<path d="M211.6,52.3 C212.5,49.9 214.1,49.5 215.7,50.2 C217.2,50.9 218.8,53.3 220.9,56.4 C223.0,59.5 225.7,65.5 228.1,68.8 C230.5,72.1 233.0,75.8 235.4,76.1 C237.8,76.4 240.0,73.0 242.6,70.9 C245.2,68.8 248.5,65.2 250.9,63.7 C253.3,62.2 255.6,61.1 257.1,61.6 C258.7,62.1 259.7,63.5 260.2,66.8 C260.7,70.1 260.7,76.5 260.2,81.3 C259.7,86.1 258.1,91.6 257.1,95.8 C256.1,100.0 255.2,103.1 254.0,106.2 C252.8,109.3 251.5,113.0 249.9,114.5 C248.3,116.0 246.6,116.2 244.7,115.5 C242.8,114.8 240.6,112.3 238.5,110.4 C236.4,108.5 235.1,107.1 232.3,104.0 C229.5,100.9 225.0,95.7 221.9,91.6 C218.8,87.5 215.5,83.7 213.6,79.2 C211.7,74.7 210.8,69.2 210.5,64.7 C210.2,60.2 210.7,54.7 211.6,52.3Z"/>
<path d="M230.2,44.0 C229.7,44.9 232.3,49.2 233.3,49.2 C234.3,49.2 236.9,44.9 236.4,44.0 C235.9,43.1 230.7,43.1 230.2,44.0Z"/>
<path d="M10.0,168.0 C10.7,164.1 12.8,169.0 14.0,168.6 C15.2,168.2 16.1,165.8 17.1,165.5 C18.1,165.2 19.5,165.4 20.2,166.6 C20.9,167.8 21.5,170.1 21.2,172.8 C20.9,175.6 19.3,180.2 18.1,183.1 C16.9,186.0 15.3,188.9 14.0,190.4 C12.7,191.9 10.7,195.7 10.0,192.0 C9.3,188.3 9.3,171.9 10.0,168.0Z"/>
<path d="M34.7,191.4 C35.6,198.7 36.4,200.4 38.8,203.8 C41.2,207.2 46.1,211.2 49.2,212.0 C52.3,212.8 55.1,210.5 57.5,208.9 C59.9,207.3 62.3,205.6 63.7,202.7 C65.1,199.8 65.5,195.3 65.8,191.4 C66.1,187.5 65.1,182.8 65.8,179.0 C66.5,175.2 67.2,172.1 69.9,168.6 C72.6,165.1 78.4,160.8 82.0,158.0 C85.6,155.2 89.5,153.8 91.4,152.0 C93.3,150.2 93.8,148.7 93.6,146.9 C93.4,145.1 92.2,143.0 90.2,141.3 C88.2,139.6 84.7,138.0 81.3,136.8 C77.9,135.6 74.9,134.3 70.0,133.9 C65.1,133.5 57.3,133.7 52.1,134.6 C46.9,135.5 41.8,137.4 38.7,139.1 C35.6,140.8 34.2,141.5 33.3,145.0 C32.4,148.5 33.0,152.3 33.2,160.0 C33.4,167.7 33.8,184.1 34.7,191.4Z"/>
<path d="M50.2,144.5 C50.2,143.1 51.0,142.1 53.3,141.4 C55.5,140.7 61.2,140.1 63.7,140.4 C66.2,140.8 67.7,141.9 68.2,143.5 C68.7,145.1 68.1,148.3 66.8,149.7 C65.5,151.1 62.9,151.8 60.6,151.8 C58.4,151.8 55.0,150.9 53.3,149.7 C51.6,148.5 50.2,145.9 50.2,144.5Z"/>
<path d="M33.0,242.0 C25.8,241.5 33.0,240.6 34.7,239.0 C36.4,237.4 39.5,234.1 43.0,232.7 C46.5,231.3 51.3,231.6 55.4,230.7 C59.5,229.8 64.5,227.3 67.8,227.5 C71.1,227.7 73.5,229.8 75.1,231.7 C76.6,233.6 76.6,237.3 77.1,239.0 C77.6,240.7 85.3,241.5 78.0,242.0 C70.7,242.5 40.2,242.5 33.0,242.0Z"/>
<path d="M104.5,146.0 C103.9,151.9 104.3,167.2 104.5,175.0 C104.7,182.8 104.5,188.1 105.6,192.9 C106.7,197.8 108.8,201.5 111.2,204.1 C113.6,206.7 115.7,208.0 120.2,208.6 C124.7,209.2 134.5,209.0 138.1,207.5 C141.7,206.0 141.1,202.9 141.5,199.7 C141.9,196.5 141.7,191.9 140.4,188.5 C139.1,185.1 135.9,182.2 133.6,179.5 C131.3,176.8 128.0,175.1 126.5,172.0 C125.0,168.9 125.2,164.7 124.5,161.0 C123.8,157.3 123.5,153.2 122.5,150.0 C121.5,146.8 120.1,143.7 118.5,142.0 C116.9,140.3 114.7,140.4 113.0,140.0 C111.3,139.6 109.7,138.5 108.3,139.5 C106.9,140.5 105.1,140.1 104.5,146.0Z"/>
<path d="M98.0,242.0 C90.3,241.1 98.2,238.5 100.0,236.7 C101.8,234.9 105.3,232.3 109.0,231.0 C112.7,229.7 118.7,229.2 122.4,228.8 C126.1,228.4 128.8,228.1 131.4,228.8 C134.0,229.6 135.9,231.4 138.1,233.3 C140.3,235.2 143.5,238.6 144.8,240.0 C146.1,241.4 153.8,241.7 146.0,242.0 C138.2,242.3 105.7,242.9 98.0,242.0Z"/>
<path d="M183.0,242.0 C179.4,241.7 184.1,241.3 185.2,240.0 C186.3,238.7 187.8,235.7 189.7,234.4 C191.6,233.1 194.5,232.1 196.4,232.2 C198.3,232.3 199.7,233.7 201.2,234.8 C202.7,235.9 204.4,237.8 205.4,239.0 C206.4,240.2 210.7,241.5 207.0,242.0 C203.3,242.5 186.6,242.3 183.0,242.0Z"/>
<path d="M214.0,242.0 C211.4,241.5 215.4,240.6 216.7,239.0 C218.0,237.4 220.3,233.6 221.9,232.7 C223.5,231.8 224.7,232.8 226.1,233.8 C227.5,234.9 229.2,237.6 230.2,239.0 C231.2,240.4 234.7,241.5 232.0,242.0 C229.3,242.5 216.6,242.5 214.0,242.0Z"/>
<path d="M246.0,242.0 C237.3,241.7 246.7,241.8 247.9,240.0 C249.2,238.2 251.4,233.1 253.5,231.0 C255.6,228.9 257.9,227.6 260.2,227.7 C262.5,227.8 264.6,231.5 267.5,231.7 C270.4,231.8 274.4,229.3 277.8,228.6 C281.2,227.9 285.3,227.5 288.2,227.5 C291.1,227.5 293.7,226.7 295.4,228.6 C297.1,230.5 297.7,236.8 298.5,239.0 C299.3,241.2 308.8,241.5 300.0,242.0 C291.2,242.5 254.7,242.3 246.0,242.0Z"/>
<path d="M204.0,137.0 C201.5,138.8 200.8,141.8 200.5,144.1 C200.2,146.4 201.2,148.2 201.9,151.0 C202.6,153.8 204.1,158.2 204.7,160.7 C205.3,163.2 206.3,164.7 205.3,166.2 C204.3,167.7 201.6,167.3 198.6,169.6 C195.6,171.8 190.2,175.8 187.4,179.7 C184.6,183.6 182.7,188.6 181.8,193.1 C180.9,197.6 180.9,203.7 181.8,206.6 C182.7,209.5 184.1,209.7 187.4,210.6 C190.8,211.5 198.0,212.3 201.9,212.0 C205.8,211.7 208.7,211.4 210.9,208.6 C213.2,205.8 214.9,199.3 215.4,195.2 C215.9,191.1 214.7,188.2 214.2,184.0 C213.7,179.8 211.9,173.3 212.2,170.3 C212.4,167.3 214.0,167.1 215.7,166.2 C217.4,165.3 220.5,165.2 222.6,164.8 C224.7,164.4 225.8,164.4 228.0,164.0 C230.2,163.6 233.4,163.4 235.6,162.1 C237.8,160.8 239.4,158.5 241.3,156.4 C243.2,154.3 245.0,151.3 247.0,149.7 C249.0,148.1 250.2,146.3 253.3,146.9 C256.4,147.5 262.2,151.2 265.7,153.1 C269.1,155.0 272.1,156.2 274.0,158.3 C275.9,160.4 277.1,162.9 277.1,165.5 C277.1,168.1 274.9,171.4 274.0,173.8 C273.1,176.2 273.3,176.7 271.9,180.0 C270.5,183.3 266.6,189.9 265.4,193.5 C264.1,197.1 263.4,199.6 264.4,201.8 C265.4,204.0 269.0,206.0 271.6,206.8 C274.2,207.6 277.5,208.2 279.9,206.8 C282.3,205.4 284.9,201.7 286.1,198.6 C287.3,195.5 287.1,192.1 287.1,188.2 C287.1,184.3 285.9,179.3 286.1,175.0 C286.3,170.7 287.0,165.2 288.2,162.4 C289.4,159.6 291.4,159.0 293.3,158.0 C295.2,157.0 297.8,157.2 299.5,156.2 C301.2,155.2 301.5,152.6 303.6,152.1 C305.7,151.6 309.5,153.1 311.9,153.1 C314.3,153.1 315.7,151.9 318.1,152.1 C320.5,152.3 324.0,152.4 326.4,154.1 C328.8,155.8 331.1,158.9 332.6,162.4 C334.2,165.9 335.0,170.0 335.7,174.8 C336.4,179.6 335.9,186.9 336.8,191.4 C337.7,195.9 338.8,198.9 340.9,201.8 C343.0,204.7 346.4,208.3 349.2,209.0 C352.0,209.7 355.4,207.8 357.5,205.9 C359.6,204.0 360.8,201.7 361.6,197.6 C362.5,193.5 361.9,186.3 362.6,181.1 C363.3,175.9 363.8,170.4 365.7,166.6 C367.6,162.8 370.8,160.0 374.0,158.3 C377.2,156.6 380.9,157.2 385.0,156.2 C389.1,155.2 395.3,152.3 398.6,152.4 C401.9,152.5 403.2,153.5 404.8,156.6 C406.4,159.7 407.5,164.1 408.0,171.1 C408.5,178.1 407.5,192.6 408.0,198.6 C408.5,204.6 408.9,204.9 411.1,206.8 C413.3,208.7 417.6,209.8 421.4,210.0 C425.2,210.2 431.0,209.5 433.8,207.9 C436.6,206.3 437.1,203.9 438.0,200.6 C438.9,197.3 439.0,192.5 439.0,188.2 C439.0,183.9 437.8,179.7 438.0,175.0 C438.2,170.3 439.9,164.5 440.2,160.0 C440.5,155.5 440.4,151.3 439.6,148.0 C438.9,144.7 437.9,142.3 435.7,140.2 C433.5,138.1 430.3,136.0 426.4,135.5 C422.5,135.0 416.2,136.8 412.4,137.1 C408.6,137.4 406.6,137.6 403.4,137.4 C400.2,137.2 396.0,135.8 393.1,135.7 C390.2,135.6 388.8,136.2 386.2,136.6 C383.6,137.0 380.5,138.5 377.6,138.3 C374.7,138.2 371.9,136.4 369.0,135.7 C366.1,135.0 364.6,134.4 360.3,134.0 C356.0,133.6 348.6,133.4 343.1,133.1 C337.7,132.8 331.9,131.9 327.6,132.2 C323.3,132.5 320.4,134.2 317.2,134.8 C314.0,135.4 312.4,135.6 308.6,135.7 C304.9,135.8 299.8,135.9 294.7,135.5 C289.6,135.1 283.6,133.7 278.1,133.5 C272.6,133.3 267.1,134.5 261.6,134.5 C256.1,134.5 249.2,134.1 245.0,133.5 C240.8,132.9 241.3,131.1 236.4,131.0 C231.5,130.9 221.1,132.1 215.7,133.1 C210.3,134.1 206.5,135.2 204.0,137.0Z"/>
<path d="M244.0,162.1 C244.4,159.2 246.1,159.9 247.4,159.3 C248.7,158.7 250.6,158.1 251.6,158.6 C252.6,159.1 253.5,160.4 253.6,162.1 C253.7,163.8 253.1,166.7 252.2,169.0 C251.3,171.3 249.3,174.6 248.1,175.9 C246.8,177.2 245.4,178.9 244.7,176.6 C244.0,174.3 243.6,165.0 244.0,162.1Z"/>
<path d="M222.6,146.9 C222.9,145.4 223.5,143.1 225.3,142.1 C227.1,141.1 231.1,140.6 233.6,140.7 C236.1,140.8 239.5,141.3 240.5,142.8 C241.5,144.3 240.7,147.9 239.8,149.7 C238.9,151.5 236.7,153.0 235.0,153.8 C233.3,154.6 231.4,155.0 229.5,154.5 C227.6,154.0 224.5,152.3 223.3,151.0 C222.2,149.7 222.3,148.4 222.6,146.9Z"/>
<path d="M258.5,143.8 C257.8,143.1 258.7,142.2 261.6,141.7 C264.5,141.2 272.5,141.0 276.1,140.7 C279.7,140.4 281.2,139.3 283.3,139.7 C285.4,140.0 287.5,141.2 288.5,142.8 C289.5,144.4 290.0,147.3 289.5,149.0 C289.0,150.7 287.3,153.1 285.4,153.1 C283.5,153.1 281.4,150.2 278.1,149.0 C274.8,147.8 269.0,146.8 265.7,145.9 C262.4,145.0 259.2,144.5 258.5,143.8Z"/>
<path d="M259.5,116.9 C260.4,115.6 262.8,113.4 265.5,110.9 C268.2,108.5 272.7,104.5 275.9,102.2 C279.1,99.9 282.2,97.7 284.5,97.1 C286.8,96.5 287.4,97.4 289.7,98.8 C292.0,100.2 295.9,103.4 298.3,105.7 C300.7,108.0 303.2,110.3 304.3,112.6 C305.4,114.9 305.9,117.9 305.2,119.5 C304.5,121.1 303.4,121.8 300.0,122.1 C296.6,122.4 289.7,121.6 284.5,121.2 C279.3,120.8 273.0,119.9 269.0,119.5 C265.0,119.1 261.9,119.0 260.3,118.6 C258.7,118.2 258.6,118.2 259.5,116.9Z"/>
<path d="M281.9,108.3 C282.2,106.7 284.3,106.6 286.2,106.6 C288.1,106.6 291.1,106.9 293.1,108.3 C295.1,109.7 297.6,113.2 298.3,115.2 C299.0,117.2 298.8,119.5 297.4,120.3 C296.0,121.1 291.8,121.0 289.7,120.3 C287.6,119.6 285.8,118.0 284.5,116.0 C283.2,114.0 281.6,109.9 281.9,108.3Z"/>
<path d="M303.0,44.0 C301.1,44.6 304.1,46.5 304.7,47.5 C305.3,48.5 305.7,49.4 306.7,50.2 C307.7,51.0 309.7,52.3 310.9,52.3 C312.1,52.3 313.3,51.0 314.0,50.2 C314.7,49.4 314.7,48.5 315.0,47.5 C315.3,46.5 318.0,44.6 316.0,44.0 C314.0,43.4 304.9,43.4 303.0,44.0Z"/>
<path d="M321.9,116.9 C322.6,114.6 323.7,109.9 326.0,107.3 C328.3,104.7 331.3,102.9 335.7,101.1 C340.1,99.3 347.8,96.9 352.2,96.3 C356.6,95.7 359.1,96.2 361.8,97.6 C364.6,99.0 366.6,101.7 368.7,104.5 C370.8,107.3 373.0,111.7 374.2,114.2 C375.4,116.7 376.3,118.2 375.6,119.7 C374.9,121.2 373.3,122.3 370.1,123.1 C366.9,123.9 361.4,124.2 356.3,124.5 C351.2,124.8 344.9,125.2 339.8,125.2 C334.8,125.2 329.0,125.2 326.0,124.5 C323.0,123.8 322.6,122.4 321.9,121.1 C321.2,119.8 321.2,119.2 321.9,116.9Z"/>
<path d="M331.5,116.9 C332.2,115.6 333.2,113.2 335.7,111.4 C338.2,109.6 343.3,107.3 346.7,105.9 C350.1,104.5 353.8,103.3 356.3,103.2 C358.8,103.1 360.2,103.8 361.8,105.2 C363.4,106.6 365.2,109.3 366.0,111.4 C366.8,113.5 367.4,116.2 366.7,117.6 C366.0,119.0 364.7,119.2 361.8,119.7 C358.9,120.2 353.8,120.2 349.4,120.4 C345.0,120.6 338.7,121.3 335.7,121.1 C332.7,120.9 332.2,119.7 331.5,119.0 C330.8,118.3 330.8,118.2 331.5,116.9Z"/>
<path d="M340.9,52.3 C341.1,51.1 343.3,48.7 345.0,48.0 C346.7,47.3 350.1,47.1 351.3,48.0 C352.5,48.9 352.7,51.9 352.3,53.3 C351.9,54.7 350.6,56.0 349.2,56.4 C347.8,56.8 345.4,56.1 344.0,55.4 C342.6,54.7 340.7,53.5 340.9,52.3Z"/>
<path d="M374.7,80.0 C375.8,76.9 378.0,72.8 380.3,70.5 C382.6,68.2 386.1,66.1 388.7,66.3 C391.3,66.5 394.3,68.6 395.7,71.9 C397.1,75.2 397.3,81.2 397.1,85.9 C396.9,90.6 395.7,96.2 394.3,99.9 C392.9,103.6 390.8,106.6 388.7,108.2 C386.6,109.8 383.8,111.0 381.7,109.6 C379.6,108.2 377.5,103.3 376.1,99.9 C374.7,96.5 373.7,92.3 373.5,89.0 C373.3,85.7 373.6,83.1 374.7,80.0Z"/>
<path d="M385.2,91.0 C385.6,88.8 386.6,86.4 387.3,86.4 C388.0,86.4 389.0,89.0 389.3,91.2 C389.6,93.4 389.6,97.6 389.3,99.5 C389.0,101.4 388.0,102.6 387.3,102.6 C386.6,102.6 385.6,101.4 385.2,99.5 C384.8,97.6 384.8,93.2 385.2,91.0Z"/>
<path d="M400.2,122.9 C399.9,120.6 400.5,116.0 401.9,112.6 C403.3,109.1 406.2,105.4 408.8,102.2 C411.4,99.0 414.7,95.6 417.4,93.6 C420.1,91.6 422.6,90.3 425.2,90.2 C427.8,90.1 430.2,91.1 432.9,92.8 C435.6,94.5 438.4,98.0 441.6,100.5 C444.8,103.0 448.6,105.8 452.0,108.0 C455.4,110.2 459.0,112.5 462.0,114.0 C465.0,115.5 467.2,116.9 470.0,117.0 C472.8,117.1 476.2,115.9 479.0,114.5 C481.8,113.1 484.3,110.4 487.0,108.5 C489.7,106.6 492.3,104.2 495.0,103.0 C497.7,101.8 500.3,101.2 503.3,101.0 C506.3,100.8 509.5,100.5 512.8,101.9 C516.1,103.3 520.0,106.4 523.1,109.2 C526.2,112.0 529.5,115.9 531.4,118.5 C533.3,121.1 534.5,123.2 534.5,124.7 C534.5,126.2 534.1,127.3 531.4,127.6 C528.7,127.9 522.9,126.4 518.1,126.6 C513.4,126.8 507.0,127.7 502.9,128.5 C498.8,129.3 496.2,129.3 493.4,131.4 C490.6,133.5 488.1,137.4 485.9,140.9 C483.7,144.4 482.0,148.8 480.2,152.2 C478.4,155.5 477.0,158.8 475.0,161.0 C473.0,163.2 470.4,165.1 468.0,165.5 C465.6,165.9 462.8,165.5 460.5,163.5 C458.2,161.5 455.8,157.8 454.5,153.4 C453.2,149.0 454.1,140.9 453.0,137.0 C451.9,133.1 450.3,131.2 447.8,130.0 C445.3,128.8 443.5,130.0 438.1,129.8 C432.8,129.6 421.4,129.6 415.7,129.0 C409.9,128.4 406.2,127.4 403.6,126.4 C401.0,125.4 400.5,125.2 400.2,122.9Z"/>
<path d="M407.9,120.3 C406.6,119.0 407.2,116.7 407.9,114.3 C408.6,111.9 410.3,108.0 412.2,105.7 C414.1,103.4 416.5,101.8 419.1,100.5 C421.7,99.2 425.5,98.2 427.8,97.9 C430.1,97.6 430.6,97.8 432.9,98.8 C435.2,99.8 438.4,101.8 441.6,104.0 C444.8,106.2 448.6,109.5 452.0,112.0 C455.4,114.5 459.0,117.2 462.0,119.0 C465.0,120.8 467.0,122.5 470.0,122.5 C473.0,122.5 477.0,120.8 480.0,119.0 C483.0,117.2 485.3,113.8 488.0,112.0 C490.7,110.2 493.6,109.1 496.4,108.4 C499.2,107.7 501.3,107.7 504.7,107.8 C508.1,107.9 513.5,107.9 516.9,109.2 C520.3,110.5 523.3,113.3 525.2,115.4 C527.1,117.5 529.2,120.4 528.3,121.6 C527.4,122.8 523.3,122.1 520.0,122.8 C516.7,123.5 512.7,124.8 508.6,125.7 C504.5,126.7 499.4,126.9 495.3,128.5 C491.2,130.1 487.1,132.3 484.0,135.2 C480.9,138.1 479.2,143.4 477.0,146.0 C474.8,148.6 472.6,151.2 470.5,151.0 C468.4,150.8 466.3,148.0 464.5,145.0 C462.7,142.0 461.4,135.7 459.5,133.0 C457.6,130.3 456.1,129.9 452.9,128.6 C449.6,127.3 443.3,126.1 440.0,125.0 C436.7,123.9 436.9,122.6 432.9,122.1 C428.8,121.6 419.9,122.4 415.7,122.1 C411.5,121.8 409.2,121.6 407.9,120.3Z"/>
<path d="M412.2,113.4 C413.1,112.0 416.5,110.2 419.1,109.1 C421.7,108.0 425.4,106.7 427.8,106.6 C430.2,106.5 433.0,107.4 433.8,108.3 C434.6,109.2 434.5,110.8 432.9,111.7 C431.3,112.6 427.4,112.4 424.3,113.4 C421.2,114.4 416.0,117.8 414.0,117.8 C412.0,117.8 411.3,114.9 412.2,113.4Z"/>
<path d="M489.1,117.0 C490.0,116.3 492.9,115.7 496.8,115.7 C500.7,115.7 509.2,116.5 512.4,117.0 C515.6,117.5 516.6,118.3 516.2,118.8 C515.8,119.3 513.9,119.9 509.8,120.1 C505.7,120.3 495.1,120.6 491.7,120.1 C488.2,119.6 488.2,117.7 489.1,117.0Z"/>
<path d="M528.3,87.4 C528.6,85.3 530.0,84.2 531.4,83.3 C532.8,82.4 535.2,81.5 536.6,82.2 C538.0,82.9 539.0,84.8 539.7,87.4 C540.4,90.0 541.1,95.0 540.7,97.8 C540.4,100.6 538.8,103.1 537.6,104.0 C536.4,104.9 534.9,104.4 533.5,103.0 C532.1,101.6 530.2,98.3 529.3,95.7 C528.4,93.1 527.9,89.5 528.3,87.4Z"/>
<path d="M545.5,121.7 C545.8,119.3 546.7,113.1 549.0,109.7 C551.3,106.3 556.1,103.3 559.3,101.5 C562.5,99.7 565.2,99.5 568.3,99.0 C571.4,98.5 574.9,98.1 577.9,98.3 C580.9,98.5 584.1,99.1 586.2,100.3 C588.3,101.5 589.5,103.0 590.3,105.2 C591.1,107.4 591.2,111.1 591.0,113.4 C590.8,115.7 590.7,118.0 589.0,119.0 C587.3,120.0 584.2,119.5 580.7,119.7 C577.2,119.9 572.4,120.0 568.3,120.3 C564.2,120.6 559.5,120.9 556.0,121.5 C552.5,122.1 549.0,124.0 547.2,124.0 C545.5,124.0 545.2,124.1 545.5,121.7Z"/>
<path d="M557.6,110.0 C558.1,109.0 560.2,107.8 562.0,107.5 C563.8,107.2 565.9,108.3 568.3,107.9 C570.7,107.5 574.3,105.5 576.6,105.2 C578.9,104.9 580.7,105.2 582.1,105.9 C583.5,106.6 584.8,108.2 584.8,109.3 C584.8,110.4 583.9,112.2 582.1,112.8 C580.3,113.4 576.6,112.6 573.8,112.8 C571.0,113.0 567.9,114.0 565.5,114.1 C563.1,114.2 560.6,114.3 559.3,113.6 C558.0,112.9 557.1,111.0 557.6,110.0Z"/>
<path d="M503.9,144.6 C504.4,143.0 505.0,141.5 506.7,140.9 C508.4,140.3 512.7,140.0 514.3,140.9 C515.9,141.8 516.4,144.4 516.2,146.5 C516.0,148.6 514.9,151.8 513.3,153.2 C511.7,154.6 508.3,155.6 506.7,155.1 C505.1,154.6 504.4,152.1 503.9,150.3 C503.4,148.6 503.4,146.2 503.9,144.6Z"/>
<path d="M482.0,200.0 C481.9,198.3 481.6,189.8 482.5,186.0 C483.4,182.2 484.8,179.1 487.4,177.3 C489.9,175.5 494.7,174.9 497.8,175.2 C500.9,175.5 503.7,177.2 506.1,179.3 C508.5,181.4 511.1,185.1 512.3,187.6 C513.5,190.1 513.6,191.5 513.3,194.4 C512.9,197.3 512.4,202.6 510.2,204.8 C507.9,207.1 503.5,207.9 499.8,207.9 C496.1,207.9 490.8,207.0 488.0,205.0 C485.2,203.0 484.0,196.8 483.0,196.0 C482.0,195.2 482.1,201.7 482.0,200.0Z"/>
<path d="M552.8,144.0 C553.1,142.1 554.5,139.4 556.9,137.8 C559.3,136.2 562.8,135.4 567.3,134.7 C571.8,134.0 580.0,133.1 583.8,133.6 C587.6,134.1 588.6,135.7 590.0,137.8 C591.4,139.9 592.7,143.0 592.0,146.1 C591.3,149.2 588.6,154.0 585.9,156.4 C583.1,158.8 579.0,160.5 575.5,160.5 C572.0,160.5 568.7,158.3 565.2,156.4 C561.8,154.5 556.9,151.3 554.8,149.2 C552.7,147.1 552.4,145.9 552.8,144.0Z"/>
<path d="M416.2,189.7 C416.4,188.5 417.4,185.7 418.3,185.5 C419.2,185.3 421.0,187.5 421.4,188.7 C421.8,189.9 421.1,192.1 420.4,192.8 C419.7,193.5 418.0,193.3 417.3,192.8 C416.6,192.3 416.0,190.9 416.2,189.7Z"/>
<path d="M384.1,217.2 C384.6,215.3 386.1,214.1 387.2,214.1 C388.2,214.1 389.9,215.3 390.4,217.2 C390.9,219.1 390.9,223.4 390.4,225.5 C389.9,227.6 388.2,229.6 387.2,229.6 C386.1,229.6 384.6,227.6 384.1,225.5 C383.6,223.4 383.6,219.1 384.1,217.2Z"/>
<path d="M306.5,181.5 C306.8,180.6 307.8,179.7 308.4,180.0 C309.0,180.3 310.3,181.9 310.4,183.1 C310.5,184.3 309.6,186.9 309.0,187.3 C308.4,187.7 307.3,186.5 306.9,185.5 C306.5,184.5 306.2,182.4 306.5,181.5Z"/>
<path d="M330.5,142.6 C330.5,140.3 332.3,140.7 334.7,140.5 C337.1,140.3 341.6,140.9 345.0,141.6 C348.4,142.3 353.1,143.3 355.4,144.7 C357.6,146.1 358.5,148.2 358.5,149.9 C358.5,151.6 357.6,153.8 355.4,155.0 C353.1,156.2 348.4,157.3 345.0,157.2 C341.6,157.0 337.1,156.5 334.7,154.1 C332.3,151.7 330.5,144.9 330.5,142.6Z"/>
<path d="M324.0,242.0 C315.4,241.5 325.0,241.1 326.4,239.0 C327.8,236.9 330.4,231.8 332.6,229.6 C334.9,227.3 337.5,225.5 339.9,225.5 C342.3,225.5 344.9,228.7 347.1,229.6 C349.3,230.5 350.9,231.7 353.3,230.7 C355.7,229.7 359.2,225.7 361.6,223.4 C364.0,221.2 366.1,217.7 367.8,217.2 C369.5,216.7 370.6,217.9 372.0,220.3 C373.4,222.7 375.2,228.6 376.1,231.7 C377.0,234.8 376.8,237.3 377.1,239.0 C377.4,240.7 386.9,241.5 378.0,242.0 C369.1,242.5 332.6,242.5 324.0,242.0Z"/>
<path d="M399.0,242.0 C391.8,241.5 400.4,241.2 401.7,239.0 C403.0,236.8 405.3,230.8 406.9,228.6 C408.5,226.3 408.7,225.7 411.1,225.5 C413.5,225.3 417.9,227.0 421.4,227.5 C424.8,228.0 429.0,227.9 431.8,228.6 C434.6,229.3 436.1,230.0 438.0,231.7 C439.9,233.4 441.9,237.3 443.1,239.0 C444.3,240.7 452.4,241.5 445.0,242.0 C437.6,242.5 406.2,242.5 399.0,242.0Z"/>
<path d="M474.0,242.0 C466.9,241.5 475.3,240.4 476.3,239.0 C477.3,237.6 478.8,235.2 480.0,233.8 C481.2,232.4 482.1,231.0 483.3,230.7 C484.5,230.3 486.0,231.0 487.4,231.7 C488.8,232.4 488.5,234.6 491.6,234.8 C494.7,235.0 502.3,232.9 506.1,232.7 C509.9,232.5 512.4,232.8 514.3,233.8 C516.2,234.9 516.6,237.6 517.4,239.0 C518.2,240.4 526.2,241.5 519.0,242.0 C511.8,242.5 481.1,242.5 474.0,242.0Z"/>
<path d="M546.0,242.0 C540.9,241.5 546.2,240.0 547.5,239.0 C548.8,238.0 551.6,236.2 553.7,236.2 C555.8,236.2 557.5,239.1 559.9,239.0 C562.3,238.9 565.5,235.8 568.2,235.8 C571.0,235.8 574.8,238.0 576.4,239.0 C578.0,240.0 583.1,241.5 578.0,242.0 C572.9,242.5 551.1,242.5 546.0,242.0Z"/>
</g>
</g>
<g>
<text transform="translate(34.0,71.2) rotate(-90)" class="cl" text-anchor="middle">260</text>
<text transform="translate(61.6,56.8) rotate(-90)" class="cl" text-anchor="middle">260</text>
<text transform="translate(24.8,112.0) rotate(-90)" class="cl" text-anchor="middle">240</text>
<text transform="translate(31.6,148.0) rotate(-90)" class="cl" text-anchor="middle">260</text>
<text transform="translate(85.4,88.5) rotate(-90)" class="cl" text-anchor="middle">260</text>
<text transform="translate(94.2,125.0) rotate(-90)" class="cl" text-anchor="middle">240</text>
<text transform="translate(114.2,116.0) rotate(-90)" class="cl" text-anchor="middle">220</text>
<text transform="translate(103.2,144.0) rotate(-90)" class="cl" text-anchor="middle">260</text>
<text transform="translate(116.2,68.8) rotate(-90)" class="cl" text-anchor="middle">260</text>
<text transform="translate(148.2,71.8) rotate(-90)" class="cl" text-anchor="middle">260</text>
<text transform="translate(157.7,151.0) rotate(-90)" class="cl" text-anchor="middle">220</text>
<text transform="translate(179.8,200.4) rotate(-90)" class="cl" text-anchor="middle">260</text>
<text transform="translate(210.0,67.0) rotate(-90)" class="cl" text-anchor="middle">260</text>
<text transform="translate(259.6,118.0) rotate(-90)" class="cl" text-anchor="middle">240</text>
<text transform="translate(245.2,168.0) rotate(-90)" class="cl" text-anchor="middle">240</text>
<text transform="translate(320.8,120.4) rotate(-90)" class="cl" text-anchor="middle">240</text>
<text transform="translate(341.9,56.4) rotate(-90)" class="cl" text-anchor="middle">260</text>
<text transform="translate(372.9,85.0) rotate(-90)" class="cl" text-anchor="middle">260</text>
<text transform="translate(305.6,183.5) rotate(-90)" class="cl" text-anchor="middle">240</text>
<text transform="translate(399.1,122.0) rotate(-90)" class="cl" text-anchor="middle">240</text>
<text transform="translate(412.9,117.3) rotate(-90)" class="cl" text-anchor="middle">220</text>
<text transform="translate(431.1,67.3) rotate(-90)" class="cl" text-anchor="middle">260</text>
<text transform="translate(450.8,86.2) rotate(-90)" class="cl" text-anchor="middle">260</text>
<text transform="translate(488.6,119.0) rotate(-90)" class="cl" text-anchor="middle">220</text>
<text transform="translate(504.2,146.5) rotate(-90)" class="cl" text-anchor="middle">260</text>
<text transform="translate(542.4,127.5) rotate(-90)" class="cl" text-anchor="middle">240</text>
<text transform="translate(527.8,87.4) rotate(-90)" class="cl" text-anchor="middle">260</text>
<text transform="translate(479.6,196.0) rotate(-90)" class="cl" text-anchor="middle">260</text>
</g>
<rect x="14.2" y="47.5" width="579.4" height="192.1" fill="none" stroke="#111" stroke-width="1.8"/>
<g stroke="#111" stroke-width="1.5">
<line x1="14.20" y1="36.0" x2="14.20" y2="47.5"/>
<line x1="14.20" y1="239.6" x2="14.20" y2="263.8"/>
<line x1="87.50" y1="36.0" x2="87.50" y2="47.5"/>
<line x1="87.50" y1="239.6" x2="87.50" y2="263.8"/>
<line x1="161.40" y1="36.0" x2="161.40" y2="47.5"/>
<line x1="161.40" y1="239.6" x2="161.40" y2="263.8"/>
<line x1="234.50" y1="36.0" x2="234.50" y2="47.5"/>
<line x1="234.50" y1="239.6" x2="234.50" y2="263.8"/>
<line x1="308.30" y1="36.0" x2="308.30" y2="47.5"/>
<line x1="308.30" y1="239.6" x2="308.30" y2="263.8"/>
<line x1="382.30" y1="36.0" x2="382.30" y2="47.5"/>
<line x1="382.30" y1="239.6" x2="382.30" y2="263.8"/>
<line x1="454.50" y1="36.0" x2="454.50" y2="47.5"/>
<line x1="454.50" y1="239.6" x2="454.50" y2="263.8"/>
<line x1="527.60" y1="36.0" x2="527.60" y2="47.5"/>
<line x1="527.60" y1="239.6" x2="527.60" y2="263.8"/>
<line x1="19.31" y1="44.3" x2="19.31" y2="47.5"/>
<line x1="20.31" y1="239.6" x2="20.31" y2="243.0"/>
<line x1="25.42" y1="44.3" x2="25.42" y2="47.5"/>
<line x1="26.42" y1="239.6" x2="26.42" y2="243.0"/>
<line x1="31.52" y1="44.3" x2="31.52" y2="47.5"/>
<line x1="32.52" y1="239.6" x2="32.52" y2="243.0"/>
<line x1="37.63" y1="44.3" x2="37.63" y2="47.5"/>
<line x1="38.63" y1="239.6" x2="38.63" y2="243.0"/>
<line x1="43.74" y1="44.3" x2="43.74" y2="47.5"/>
<line x1="44.74" y1="239.6" x2="44.74" y2="243.0"/>
<line x1="49.85" y1="44.3" x2="49.85" y2="47.5"/>
<line x1="50.85" y1="239.6" x2="50.85" y2="243.0"/>
<line x1="55.96" y1="44.3" x2="55.96" y2="47.5"/>
<line x1="56.96" y1="239.6" x2="56.96" y2="243.0"/>
<line x1="62.07" y1="44.3" x2="62.07" y2="47.5"/>
<line x1="63.07" y1="239.6" x2="63.07" y2="243.0"/>
<line x1="68.17" y1="44.3" x2="68.17" y2="47.5"/>
<line x1="69.17" y1="239.6" x2="69.17" y2="243.0"/>
<line x1="74.28" y1="44.3" x2="74.28" y2="47.5"/>
<line x1="75.28" y1="239.6" x2="75.28" y2="243.0"/>
<line x1="80.39" y1="44.3" x2="80.39" y2="47.5"/>
<line x1="81.39" y1="239.6" x2="81.39" y2="243.0"/>
<line x1="92.66" y1="44.3" x2="92.66" y2="47.5"/>
<line x1="93.66" y1="239.6" x2="93.66" y2="243.0"/>
<line x1="98.82" y1="44.3" x2="98.82" y2="47.5"/>
<line x1="99.82" y1="239.6" x2="99.82" y2="243.0"/>
<line x1="104.97" y1="44.3" x2="104.97" y2="47.5"/>
<line x1="105.97" y1="239.6" x2="105.97" y2="243.0"/>
<line x1="111.13" y1="44.3" x2="111.13" y2="47.5"/>
<line x1="112.13" y1="239.6" x2="112.13" y2="243.0"/>
<line x1="117.29" y1="44.3" x2="117.29" y2="47.5"/>
<line x1="118.29" y1="239.6" x2="118.29" y2="243.0"/>
<line x1="123.45" y1="44.3" x2="123.45" y2="47.5"/>
<line x1="124.45" y1="239.6" x2="124.45" y2="243.0"/>
<line x1="129.61" y1="44.3" x2="129.61" y2="47.5"/>
<line x1="130.61" y1="239.6" x2="130.61" y2="243.0"/>
<line x1="135.77" y1="44.3" x2="135.77" y2="47.5"/>
<line x1="136.77" y1="239.6" x2="136.77" y2="243.0"/>
<line x1="141.93" y1="44.3" x2="141.93" y2="47.5"/>
<line x1="142.93" y1="239.6" x2="142.93" y2="243.0"/>
<line x1="148.08" y1="44.3" x2="148.08" y2="47.5"/>
<line x1="149.08" y1="239.6" x2="149.08" y2="243.0"/>
<line x1="154.24" y1="44.3" x2="154.24" y2="47.5"/>
<line x1="155.24" y1="239.6" x2="155.24" y2="243.0"/>
<line x1="166.49" y1="44.3" x2="166.49" y2="47.5"/>
<line x1="167.49" y1="239.6" x2="167.49" y2="243.0"/>
<line x1="172.58" y1="44.3" x2="172.58" y2="47.5"/>
<line x1="173.58" y1="239.6" x2="173.58" y2="243.0"/>
<line x1="178.68" y1="44.3" x2="178.68" y2="47.5"/>
<line x1="179.68" y1="239.6" x2="179.68" y2="243.0"/>
<line x1="184.77" y1="44.3" x2="184.77" y2="47.5"/>
<line x1="185.77" y1="239.6" x2="185.77" y2="243.0"/>
<line x1="190.86" y1="44.3" x2="190.86" y2="47.5"/>
<line x1="191.86" y1="239.6" x2="191.86" y2="243.0"/>
<line x1="196.95" y1="44.3" x2="196.95" y2="47.5"/>
<line x1="197.95" y1="239.6" x2="197.95" y2="243.0"/>
<line x1="203.04" y1="44.3" x2="203.04" y2="47.5"/>
<line x1="204.04" y1="239.6" x2="204.04" y2="243.0"/>
<line x1="209.13" y1="44.3" x2="209.13" y2="47.5"/>
<line x1="210.13" y1="239.6" x2="210.13" y2="243.0"/>
<line x1="215.22" y1="44.3" x2="215.22" y2="47.5"/>
<line x1="216.22" y1="239.6" x2="216.22" y2="243.0"/>
<line x1="221.32" y1="44.3" x2="221.32" y2="47.5"/>
<line x1="222.32" y1="239.6" x2="222.32" y2="243.0"/>
<line x1="227.41" y1="44.3" x2="227.41" y2="47.5"/>
<line x1="228.41" y1="239.6" x2="228.41" y2="243.0"/>
<line x1="239.65" y1="44.3" x2="239.65" y2="47.5"/>
<line x1="240.65" y1="239.6" x2="240.65" y2="243.0"/>
<line x1="245.80" y1="44.3" x2="245.80" y2="47.5"/>
<line x1="246.80" y1="239.6" x2="246.80" y2="243.0"/>
<line x1="251.95" y1="44.3" x2="251.95" y2="47.5"/>
<line x1="252.95" y1="239.6" x2="252.95" y2="243.0"/>
<line x1="258.10" y1="44.3" x2="258.10" y2="47.5"/>
<line x1="259.10" y1="239.6" x2="259.10" y2="243.0"/>
<line x1="264.25" y1="44.3" x2="264.25" y2="47.5"/>
<line x1="265.25" y1="239.6" x2="265.25" y2="243.0"/>
<line x1="270.40" y1="44.3" x2="270.40" y2="47.5"/>
<line x1="271.40" y1="239.6" x2="271.40" y2="243.0"/>
<line x1="276.55" y1="44.3" x2="276.55" y2="47.5"/>
<line x1="277.55" y1="239.6" x2="277.55" y2="243.0"/>
<line x1="282.70" y1="44.3" x2="282.70" y2="47.5"/>
<line x1="283.70" y1="239.6" x2="283.70" y2="243.0"/>
<line x1="288.85" y1="44.3" x2="288.85" y2="47.5"/>
<line x1="289.85" y1="239.6" x2="289.85" y2="243.0"/>
<line x1="295.00" y1="44.3" x2="295.00" y2="47.5"/>
<line x1="296.00" y1="239.6" x2="296.00" y2="243.0"/>
<line x1="301.15" y1="44.3" x2="301.15" y2="47.5"/>
<line x1="302.15" y1="239.6" x2="302.15" y2="243.0"/>
<line x1="313.47" y1="44.3" x2="313.47" y2="47.5"/>
<line x1="314.47" y1="239.6" x2="314.47" y2="243.0"/>
<line x1="319.63" y1="44.3" x2="319.63" y2="47.5"/>
<line x1="320.63" y1="239.6" x2="320.63" y2="243.0"/>
<line x1="325.80" y1="44.3" x2="325.80" y2="47.5"/>
<line x1="326.80" y1="239.6" x2="326.80" y2="243.0"/>
<line x1="331.97" y1="44.3" x2="331.97" y2="47.5"/>
<line x1="332.97" y1="239.6" x2="332.97" y2="243.0"/>
<line x1="338.13" y1="44.3" x2="338.13" y2="47.5"/>
<line x1="339.13" y1="239.6" x2="339.13" y2="243.0"/>
<line x1="344.30" y1="44.3" x2="344.30" y2="47.5"/>
<line x1="345.30" y1="239.6" x2="345.30" y2="243.0"/>
<line x1="350.47" y1="44.3" x2="350.47" y2="47.5"/>
<line x1="351.47" y1="239.6" x2="351.47" y2="243.0"/>
<line x1="356.63" y1="44.3" x2="356.63" y2="47.5"/>
<line x1="357.63" y1="239.6" x2="357.63" y2="243.0"/>
<line x1="362.80" y1="44.3" x2="362.80" y2="47.5"/>
<line x1="363.80" y1="239.6" x2="363.80" y2="243.0"/>
<line x1="368.97" y1="44.3" x2="368.97" y2="47.5"/>
<line x1="369.97" y1="239.6" x2="369.97" y2="243.0"/>
<line x1="375.13" y1="44.3" x2="375.13" y2="47.5"/>
<line x1="376.13" y1="239.6" x2="376.13" y2="243.0"/>
<line x1="387.32" y1="44.3" x2="387.32" y2="47.5"/>
<line x1="388.32" y1="239.6" x2="388.32" y2="243.0"/>
<line x1="393.33" y1="44.3" x2="393.33" y2="47.5"/>
<line x1="394.33" y1="239.6" x2="394.33" y2="243.0"/>
<line x1="399.35" y1="44.3" x2="399.35" y2="47.5"/>
<line x1="400.35" y1="239.6" x2="400.35" y2="243.0"/>
<line x1="405.37" y1="44.3" x2="405.37" y2="47.5"/>
<line x1="406.37" y1="239.6" x2="406.37" y2="243.0"/>
<line x1="411.38" y1="44.3" x2="411.38" y2="47.5"/>
<line x1="412.38" y1="239.6" x2="412.38" y2="243.0"/>
<line x1="417.40" y1="44.3" x2="417.40" y2="47.5"/>
<line x1="418.40" y1="239.6" x2="418.40" y2="243.0"/>
<line x1="423.42" y1="44.3" x2="423.42" y2="47.5"/>
<line x1="424.42" y1="239.6" x2="424.42" y2="243.0"/>
<line x1="429.43" y1="44.3" x2="429.43" y2="47.5"/>
<line x1="430.43" y1="239.6" x2="430.43" y2="243.0"/>
<line x1="435.45" y1="44.3" x2="435.45" y2="47.5"/>
<line x1="436.45" y1="239.6" x2="436.45" y2="243.0"/>
<line x1="441.47" y1="44.3" x2="441.47" y2="47.5"/>
<line x1="442.47" y1="239.6" x2="442.47" y2="243.0"/>
<line x1="447.48" y1="44.3" x2="447.48" y2="47.5"/>
<line x1="448.48" y1="239.6" x2="448.48" y2="243.0"/>
<line x1="459.59" y1="44.3" x2="459.59" y2="47.5"/>
<line x1="460.59" y1="239.6" x2="460.59" y2="243.0"/>
<line x1="465.68" y1="44.3" x2="465.68" y2="47.5"/>
<line x1="466.68" y1="239.6" x2="466.68" y2="243.0"/>
<line x1="471.77" y1="44.3" x2="471.77" y2="47.5"/>
<line x1="472.77" y1="239.6" x2="472.77" y2="243.0"/>
<line x1="477.87" y1="44.3" x2="477.87" y2="47.5"/>
<line x1="478.87" y1="239.6" x2="478.87" y2="243.0"/>
<line x1="483.96" y1="44.3" x2="483.96" y2="47.5"/>
<line x1="484.96" y1="239.6" x2="484.96" y2="243.0"/>
<line x1="490.05" y1="44.3" x2="490.05" y2="47.5"/>
<line x1="491.05" y1="239.6" x2="491.05" y2="243.0"/>
<line x1="496.14" y1="44.3" x2="496.14" y2="47.5"/>
<line x1="497.14" y1="239.6" x2="497.14" y2="243.0"/>
<line x1="502.23" y1="44.3" x2="502.23" y2="47.5"/>
<line x1="503.23" y1="239.6" x2="503.23" y2="243.0"/>
<line x1="508.33" y1="44.3" x2="508.33" y2="47.5"/>
<line x1="509.33" y1="239.6" x2="509.33" y2="243.0"/>
<line x1="514.42" y1="44.3" x2="514.42" y2="47.5"/>
<line x1="515.42" y1="239.6" x2="515.42" y2="243.0"/>
<line x1="520.51" y1="44.3" x2="520.51" y2="47.5"/>
<line x1="521.51" y1="239.6" x2="521.51" y2="243.0"/>
<line x1="532.71" y1="44.3" x2="532.71" y2="47.5"/>
<line x1="533.71" y1="239.6" x2="533.71" y2="243.0"/>
<line x1="538.82" y1="44.3" x2="538.82" y2="47.5"/>
<line x1="539.82" y1="239.6" x2="539.82" y2="243.0"/>
<line x1="544.94" y1="44.3" x2="544.94" y2="47.5"/>
<line x1="545.94" y1="239.6" x2="545.94" y2="243.0"/>
<line x1="551.05" y1="44.3" x2="551.05" y2="47.5"/>
<line x1="552.05" y1="239.6" x2="552.05" y2="243.0"/>
<line x1="557.16" y1="44.3" x2="557.16" y2="47.5"/>
<line x1="558.16" y1="239.6" x2="558.16" y2="243.0"/>
<line x1="563.27" y1="44.3" x2="563.27" y2="47.5"/>
<line x1="564.27" y1="239.6" x2="564.27" y2="243.0"/>
<line x1="569.38" y1="44.3" x2="569.38" y2="47.5"/>
<line x1="570.38" y1="239.6" x2="570.38" y2="243.0"/>
<line x1="575.49" y1="44.3" x2="575.49" y2="47.5"/>
<line x1="576.49" y1="239.6" x2="576.49" y2="243.0"/>
<line x1="581.61" y1="44.3" x2="581.61" y2="47.5"/>
<line x1="582.61" y1="239.6" x2="582.61" y2="243.0"/>
<line x1="587.72" y1="44.3" x2="587.72" y2="47.5"/>
<line x1="588.72" y1="239.6" x2="588.72" y2="243.0"/>
<line x1="8" y1="47.6" x2="14.2" y2="47.6"/>
<line x1="593.6" y1="47.6" x2="600" y2="47.6"/>
<line x1="8" y1="77.4" x2="14.2" y2="77.4"/>
<line x1="593.6" y1="77.4" x2="600" y2="77.4"/>
<line x1="8" y1="110.2" x2="14.2" y2="110.2"/>
<line x1="593.6" y1="110.2" x2="600" y2="110.2"/>
<line x1="8" y1="143.4" x2="14.2" y2="143.4"/>
<line x1="593.6" y1="143.4" x2="600" y2="143.4"/>
<line x1="8" y1="176.5" x2="14.2" y2="176.5"/>
<line x1="593.6" y1="176.5" x2="600" y2="176.5"/>
<line x1="8" y1="209.2" x2="14.2" y2="209.2"/>
<line x1="593.6" y1="209.2" x2="600" y2="209.2"/>
<line x1="8" y1="239.6" x2="14.2" y2="239.6"/>
<line x1="593.6" y1="239.6" x2="600" y2="239.6"/>
</g>
<text x="606" y="50.5" class="ax">30N</text>
<text x="606" y="80.3" class="ax">20N</text>
<text x="606" y="113.1" class="ax">10N</text>
<text x="606" y="146.3" class="ax">00</text>
<text x="606" y="179.4" class="ax">10S</text>
<text x="606" y="212.1" class="ax">20S</text>
<text x="606" y="242.5" class="ax">30S</text>
<text x="49.6" y="258" class="ax" text-anchor="middle">1981</text>
<text x="123.2" y="258" class="ax" text-anchor="middle">1982</text>
<text x="196.8" y="258" class="ax" text-anchor="middle">1983</text>
<text x="270.2" y="258" class="ax" text-anchor="middle">1984</text>
<text x="344.1" y="258" class="ax" text-anchor="middle">1985</text>
<text x="417.2" y="258" class="ax" text-anchor="middle">1986</text>
<text x="489.9" y="258" class="ax" text-anchor="middle">1987</text>
<text x="563.1" y="258" class="ax" text-anchor="middle">1988</text>
<text x="51.3" y="23" class="tt">Hovmoller Diagram of Longitudinally Averaged (100W-150E) OLR, 1981-1988</text>
<text x="422" y="285.6" class="ft">Adapted from Rasmusson and Arkin (1993)</text>
</svg>
</body></html>
